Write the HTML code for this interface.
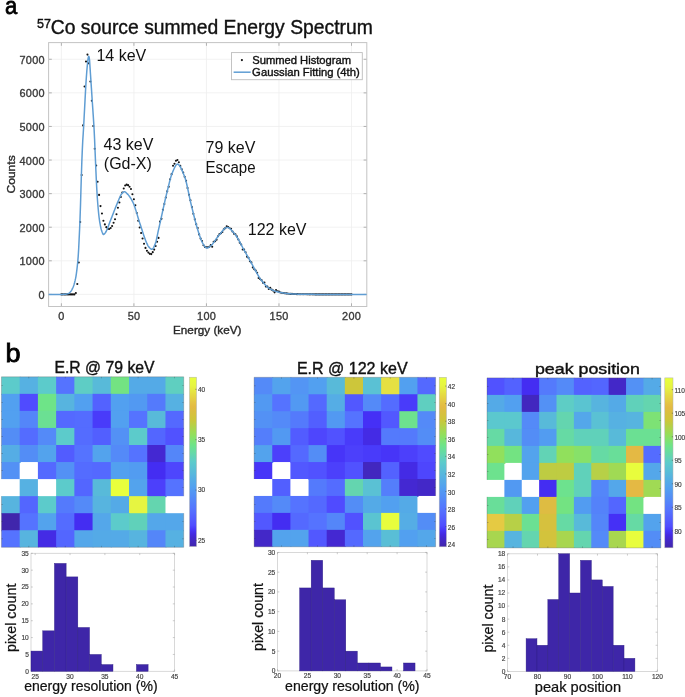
<!DOCTYPE html>
<html><head><meta charset="utf-8"><style>
html,body{margin:0;padding:0;background:#fff;}
svg{display:block;}
</style></head><body>
<svg width="685" height="697" viewBox="0 0 685 697" style="will-change:transform;filter:blur(0.3px)">
<rect width="685" height="697" fill="#fff"/>
<line x1="61.4" y1="42.6" x2="61.4" y2="306.5" stroke="#efefef" stroke-width="0.8"/>
<line x1="133.92" y1="42.6" x2="133.92" y2="306.5" stroke="#efefef" stroke-width="0.8"/>
<line x1="206.45" y1="42.6" x2="206.45" y2="306.5" stroke="#efefef" stroke-width="0.8"/>
<line x1="278.97" y1="42.6" x2="278.97" y2="306.5" stroke="#efefef" stroke-width="0.8"/>
<line x1="351.5" y1="42.6" x2="351.5" y2="306.5" stroke="#efefef" stroke-width="0.8"/>
<line x1="48.6" y1="294.4" x2="366.8" y2="294.4" stroke="#efefef" stroke-width="0.8"/>
<line x1="48.6" y1="260.81" x2="366.8" y2="260.81" stroke="#efefef" stroke-width="0.8"/>
<line x1="48.6" y1="227.22" x2="366.8" y2="227.22" stroke="#efefef" stroke-width="0.8"/>
<line x1="48.6" y1="193.63" x2="366.8" y2="193.63" stroke="#efefef" stroke-width="0.8"/>
<line x1="48.6" y1="160.04" x2="366.8" y2="160.04" stroke="#efefef" stroke-width="0.8"/>
<line x1="48.6" y1="126.45" x2="366.8" y2="126.45" stroke="#efefef" stroke-width="0.8"/>
<line x1="48.6" y1="92.86" x2="366.8" y2="92.86" stroke="#efefef" stroke-width="0.8"/>
<line x1="48.6" y1="59.27" x2="366.8" y2="59.27" stroke="#efefef" stroke-width="0.8"/>
<line x1="61.4" y1="306.5" x2="61.4" y2="303.3" stroke="#a8a8a8" stroke-width="0.9"/>
<line x1="61.4" y1="42.6" x2="61.4" y2="45.800000000000004" stroke="#a8a8a8" stroke-width="0.9"/>
<line x1="133.92" y1="306.5" x2="133.92" y2="303.3" stroke="#a8a8a8" stroke-width="0.9"/>
<line x1="133.92" y1="42.6" x2="133.92" y2="45.800000000000004" stroke="#a8a8a8" stroke-width="0.9"/>
<line x1="206.45" y1="306.5" x2="206.45" y2="303.3" stroke="#a8a8a8" stroke-width="0.9"/>
<line x1="206.45" y1="42.6" x2="206.45" y2="45.800000000000004" stroke="#a8a8a8" stroke-width="0.9"/>
<line x1="278.97" y1="306.5" x2="278.97" y2="303.3" stroke="#a8a8a8" stroke-width="0.9"/>
<line x1="278.97" y1="42.6" x2="278.97" y2="45.800000000000004" stroke="#a8a8a8" stroke-width="0.9"/>
<line x1="351.5" y1="306.5" x2="351.5" y2="303.3" stroke="#a8a8a8" stroke-width="0.9"/>
<line x1="351.5" y1="42.6" x2="351.5" y2="45.800000000000004" stroke="#a8a8a8" stroke-width="0.9"/>
<line x1="48.6" y1="294.4" x2="51.800000000000004" y2="294.4" stroke="#a8a8a8" stroke-width="0.9"/>
<line x1="366.8" y1="294.4" x2="363.6" y2="294.4" stroke="#a8a8a8" stroke-width="0.9"/>
<line x1="48.6" y1="260.81" x2="51.800000000000004" y2="260.81" stroke="#a8a8a8" stroke-width="0.9"/>
<line x1="366.8" y1="260.81" x2="363.6" y2="260.81" stroke="#a8a8a8" stroke-width="0.9"/>
<line x1="48.6" y1="227.22" x2="51.800000000000004" y2="227.22" stroke="#a8a8a8" stroke-width="0.9"/>
<line x1="366.8" y1="227.22" x2="363.6" y2="227.22" stroke="#a8a8a8" stroke-width="0.9"/>
<line x1="48.6" y1="193.63" x2="51.800000000000004" y2="193.63" stroke="#a8a8a8" stroke-width="0.9"/>
<line x1="366.8" y1="193.63" x2="363.6" y2="193.63" stroke="#a8a8a8" stroke-width="0.9"/>
<line x1="48.6" y1="160.04" x2="51.800000000000004" y2="160.04" stroke="#a8a8a8" stroke-width="0.9"/>
<line x1="366.8" y1="160.04" x2="363.6" y2="160.04" stroke="#a8a8a8" stroke-width="0.9"/>
<line x1="48.6" y1="126.45" x2="51.800000000000004" y2="126.45" stroke="#a8a8a8" stroke-width="0.9"/>
<line x1="366.8" y1="126.45" x2="363.6" y2="126.45" stroke="#a8a8a8" stroke-width="0.9"/>
<line x1="48.6" y1="92.86" x2="51.800000000000004" y2="92.86" stroke="#a8a8a8" stroke-width="0.9"/>
<line x1="366.8" y1="92.86" x2="363.6" y2="92.86" stroke="#a8a8a8" stroke-width="0.9"/>
<line x1="48.6" y1="59.27" x2="51.800000000000004" y2="59.27" stroke="#a8a8a8" stroke-width="0.9"/>
<line x1="366.8" y1="59.27" x2="363.6" y2="59.27" stroke="#a8a8a8" stroke-width="0.9"/>
<rect x="48.6" y="42.6" width="318.2" height="263.9" fill="none" stroke="#c4c4c4" stroke-width="1"/>
<text x="61.57" y="320" font-family="&quot;Liberation Sans&quot;, sans-serif" font-size="10.9" fill="#3a3a3a" stroke="#3a3a3a" stroke-width="0.35" text-anchor="middle" letter-spacing="0.35">0</text>
<text x="134.1" y="320" font-family="&quot;Liberation Sans&quot;, sans-serif" font-size="10.9" fill="#3a3a3a" stroke="#3a3a3a" stroke-width="0.35" text-anchor="middle" letter-spacing="0.35">50</text>
<text x="206.62" y="320" font-family="&quot;Liberation Sans&quot;, sans-serif" font-size="10.9" fill="#3a3a3a" stroke="#3a3a3a" stroke-width="0.35" text-anchor="middle" letter-spacing="0.35">100</text>
<text x="279.15" y="320" font-family="&quot;Liberation Sans&quot;, sans-serif" font-size="10.9" fill="#3a3a3a" stroke="#3a3a3a" stroke-width="0.35" text-anchor="middle" letter-spacing="0.35">150</text>
<text x="351.67" y="320" font-family="&quot;Liberation Sans&quot;, sans-serif" font-size="10.9" fill="#3a3a3a" stroke="#3a3a3a" stroke-width="0.35" text-anchor="middle" letter-spacing="0.35">200</text>
<text x="44.9" y="299" font-family="&quot;Liberation Sans&quot;, sans-serif" font-size="10.9" fill="#3a3a3a" stroke="#3a3a3a" stroke-width="0.35" text-anchor="end" letter-spacing="0.3">0</text>
<text x="44.9" y="265.41" font-family="&quot;Liberation Sans&quot;, sans-serif" font-size="10.9" fill="#3a3a3a" stroke="#3a3a3a" stroke-width="0.35" text-anchor="end" letter-spacing="0.3">1000</text>
<text x="44.9" y="231.82" font-family="&quot;Liberation Sans&quot;, sans-serif" font-size="10.9" fill="#3a3a3a" stroke="#3a3a3a" stroke-width="0.35" text-anchor="end" letter-spacing="0.3">2000</text>
<text x="44.9" y="198.23" font-family="&quot;Liberation Sans&quot;, sans-serif" font-size="10.9" fill="#3a3a3a" stroke="#3a3a3a" stroke-width="0.35" text-anchor="end" letter-spacing="0.3">3000</text>
<text x="44.9" y="164.64" font-family="&quot;Liberation Sans&quot;, sans-serif" font-size="10.9" fill="#3a3a3a" stroke="#3a3a3a" stroke-width="0.35" text-anchor="end" letter-spacing="0.3">4000</text>
<text x="44.9" y="131.05" font-family="&quot;Liberation Sans&quot;, sans-serif" font-size="10.9" fill="#3a3a3a" stroke="#3a3a3a" stroke-width="0.35" text-anchor="end" letter-spacing="0.3">5000</text>
<text x="44.9" y="97.46" font-family="&quot;Liberation Sans&quot;, sans-serif" font-size="10.9" fill="#3a3a3a" stroke="#3a3a3a" stroke-width="0.35" text-anchor="end" letter-spacing="0.3">6000</text>
<text x="44.9" y="63.87" font-family="&quot;Liberation Sans&quot;, sans-serif" font-size="10.9" fill="#3a3a3a" stroke="#3a3a3a" stroke-width="0.35" text-anchor="end" letter-spacing="0.3">7000</text>
<text x="173.06" y="333.6" font-family="&quot;Liberation Sans&quot;, sans-serif" font-size="11.6" fill="#2a2a2a" stroke="#2a2a2a" stroke-width="0.38" textLength="68.35" lengthAdjust="spacingAndGlyphs">Energy (keV)</text>
<text transform="translate(14.9,193.5) rotate(-90)" x="0" y="0" font-family="&quot;Liberation Sans&quot;, sans-serif" font-size="11.8" fill="#2a2a2a" stroke="#2a2a2a" stroke-width="0.38" textLength="38.21" lengthAdjust="spacingAndGlyphs">Counts</text>
<circle cx="61.36" cy="294.4" r="1.05" fill="#111"/>
<circle cx="62.81" cy="294.4" r="1.05" fill="#111"/>
<circle cx="64.26" cy="294.4" r="1.05" fill="#111"/>
<circle cx="65.71" cy="294.4" r="1.05" fill="#111"/>
<circle cx="67.16" cy="294.4" r="1.05" fill="#111"/>
<circle cx="68.61" cy="294.4" r="1.05" fill="#111"/>
<circle cx="70.06" cy="294.4" r="1.05" fill="#111"/>
<circle cx="71.51" cy="294.4" r="1.05" fill="#111"/>
<circle cx="72.96" cy="294.4" r="1.05" fill="#111"/>
<circle cx="74.41" cy="294.4" r="1.05" fill="#111"/>
<circle cx="75.86" cy="292.93" r="1.05" fill="#111"/>
<circle cx="77.31" cy="283.99" r="1.05" fill="#111"/>
<circle cx="78.76" cy="262.54" r="1.05" fill="#111"/>
<circle cx="80.21" cy="221.94" r="1.05" fill="#111"/>
<circle cx="81.66" cy="175.12" r="1.05" fill="#111"/>
<circle cx="83.11" cy="125.39" r="1.05" fill="#111"/>
<circle cx="84.56" cy="86.56" r="1.05" fill="#111"/>
<circle cx="86.01" cy="61.46" r="1.05" fill="#111"/>
<circle cx="87.47" cy="54.59" r="1.05" fill="#111"/>
<circle cx="88.92" cy="63.33" r="1.05" fill="#111"/>
<circle cx="90.37" cy="81.46" r="1.05" fill="#111"/>
<circle cx="91.82" cy="100.81" r="1.05" fill="#111"/>
<circle cx="93.27" cy="126.02" r="1.05" fill="#111"/>
<circle cx="94.72" cy="148.75" r="1.05" fill="#111"/>
<circle cx="96.17" cy="165.52" r="1.05" fill="#111"/>
<circle cx="97.62" cy="181.73" r="1.05" fill="#111"/>
<circle cx="99.07" cy="194.9" r="1.05" fill="#111"/>
<circle cx="100.52" cy="206.11" r="1.05" fill="#111"/>
<circle cx="101.97" cy="213.54" r="1.05" fill="#111"/>
<circle cx="103.42" cy="220.76" r="1.05" fill="#111"/>
<circle cx="104.87" cy="224.39" r="1.05" fill="#111"/>
<circle cx="106.32" cy="227.17" r="1.05" fill="#111"/>
<circle cx="107.77" cy="228.88" r="1.05" fill="#111"/>
<circle cx="109.22" cy="229.03" r="1.05" fill="#111"/>
<circle cx="110.67" cy="227.95" r="1.05" fill="#111"/>
<circle cx="112.12" cy="225.97" r="1.05" fill="#111"/>
<circle cx="113.57" cy="222.7" r="1.05" fill="#111"/>
<circle cx="115.02" cy="219.21" r="1.05" fill="#111"/>
<circle cx="116.48" cy="214.2" r="1.05" fill="#111"/>
<circle cx="117.93" cy="207.8" r="1.05" fill="#111"/>
<circle cx="119.38" cy="202.46" r="1.05" fill="#111"/>
<circle cx="120.83" cy="197.06" r="1.05" fill="#111"/>
<circle cx="122.28" cy="192.52" r="1.05" fill="#111"/>
<circle cx="123.73" cy="188.52" r="1.05" fill="#111"/>
<circle cx="125.18" cy="185.44" r="1.05" fill="#111"/>
<circle cx="126.63" cy="184.64" r="1.05" fill="#111"/>
<circle cx="128.08" cy="185.13" r="1.05" fill="#111"/>
<circle cx="129.53" cy="186.68" r="1.05" fill="#111"/>
<circle cx="130.98" cy="189.07" r="1.05" fill="#111"/>
<circle cx="132.43" cy="194.18" r="1.05" fill="#111"/>
<circle cx="133.88" cy="199.25" r="1.05" fill="#111"/>
<circle cx="135.33" cy="205.2" r="1.05" fill="#111"/>
<circle cx="136.78" cy="213.01" r="1.05" fill="#111"/>
<circle cx="138.23" cy="220.69" r="1.05" fill="#111"/>
<circle cx="139.68" cy="227.53" r="1.05" fill="#111"/>
<circle cx="141.13" cy="232.94" r="1.05" fill="#111"/>
<circle cx="142.58" cy="238.46" r="1.05" fill="#111"/>
<circle cx="144.03" cy="243.76" r="1.05" fill="#111"/>
<circle cx="145.49" cy="247.88" r="1.05" fill="#111"/>
<circle cx="146.94" cy="250.78" r="1.05" fill="#111"/>
<circle cx="148.39" cy="252.59" r="1.05" fill="#111"/>
<circle cx="149.84" cy="253.86" r="1.05" fill="#111"/>
<circle cx="151.29" cy="254.08" r="1.05" fill="#111"/>
<circle cx="152.74" cy="252.15" r="1.05" fill="#111"/>
<circle cx="154.19" cy="249.58" r="1.05" fill="#111"/>
<circle cx="155.64" cy="245.97" r="1.05" fill="#111"/>
<circle cx="157.09" cy="241.7" r="1.05" fill="#111"/>
<circle cx="158.54" cy="237.89" r="1.05" fill="#111"/>
<circle cx="159.99" cy="221.61" r="1.05" fill="#111"/>
<circle cx="161.44" cy="218.87" r="1.05" fill="#111"/>
<circle cx="162.89" cy="209.72" r="1.05" fill="#111"/>
<circle cx="164.34" cy="203.97" r="1.05" fill="#111"/>
<circle cx="165.79" cy="197.53" r="1.05" fill="#111"/>
<circle cx="167.24" cy="191.36" r="1.05" fill="#111"/>
<circle cx="168.69" cy="186.86" r="1.05" fill="#111"/>
<circle cx="170.14" cy="179.29" r="1.05" fill="#111"/>
<circle cx="171.59" cy="174.17" r="1.05" fill="#111"/>
<circle cx="173.04" cy="165.79" r="1.05" fill="#111"/>
<circle cx="174.5" cy="163.69" r="1.05" fill="#111"/>
<circle cx="175.95" cy="160.81" r="1.05" fill="#111"/>
<circle cx="177.4" cy="159.97" r="1.05" fill="#111"/>
<circle cx="178.85" cy="162.2" r="1.05" fill="#111"/>
<circle cx="180.3" cy="165.9" r="1.05" fill="#111"/>
<circle cx="181.75" cy="169.24" r="1.05" fill="#111"/>
<circle cx="183.2" cy="172.45" r="1.05" fill="#111"/>
<circle cx="184.65" cy="176.86" r="1.05" fill="#111"/>
<circle cx="186.1" cy="180.77" r="1.05" fill="#111"/>
<circle cx="187.55" cy="188.01" r="1.05" fill="#111"/>
<circle cx="189" cy="194.71" r="1.05" fill="#111"/>
<circle cx="190.45" cy="200.21" r="1.05" fill="#111"/>
<circle cx="191.9" cy="207.08" r="1.05" fill="#111"/>
<circle cx="193.35" cy="213.83" r="1.05" fill="#111"/>
<circle cx="194.8" cy="219.34" r="1.05" fill="#111"/>
<circle cx="196.25" cy="224.23" r="1.05" fill="#111"/>
<circle cx="197.7" cy="228.05" r="1.05" fill="#111"/>
<circle cx="199.15" cy="234.38" r="1.05" fill="#111"/>
<circle cx="200.6" cy="238.58" r="1.05" fill="#111"/>
<circle cx="202.05" cy="241.07" r="1.05" fill="#111"/>
<circle cx="203.51" cy="245.22" r="1.05" fill="#111"/>
<circle cx="204.96" cy="246.95" r="1.05" fill="#111"/>
<circle cx="206.41" cy="247.22" r="1.05" fill="#111"/>
<circle cx="207.86" cy="247.26" r="1.05" fill="#111"/>
<circle cx="209.31" cy="246.78" r="1.05" fill="#111"/>
<circle cx="210.76" cy="245.16" r="1.05" fill="#111"/>
<circle cx="212.21" cy="246.73" r="1.05" fill="#111"/>
<circle cx="213.66" cy="241.69" r="1.05" fill="#111"/>
<circle cx="215.11" cy="241.29" r="1.05" fill="#111"/>
<circle cx="216.56" cy="239.78" r="1.05" fill="#111"/>
<circle cx="218.01" cy="236.19" r="1.05" fill="#111"/>
<circle cx="219.46" cy="234.14" r="1.05" fill="#111"/>
<circle cx="220.91" cy="233.28" r="1.05" fill="#111"/>
<circle cx="222.36" cy="231.95" r="1.05" fill="#111"/>
<circle cx="223.81" cy="229.35" r="1.05" fill="#111"/>
<circle cx="225.26" cy="228.14" r="1.05" fill="#111"/>
<circle cx="226.71" cy="226.26" r="1.05" fill="#111"/>
<circle cx="228.16" cy="226.93" r="1.05" fill="#111"/>
<circle cx="229.61" cy="228.21" r="1.05" fill="#111"/>
<circle cx="231.06" cy="228.76" r="1.05" fill="#111"/>
<circle cx="232.52" cy="231.48" r="1.05" fill="#111"/>
<circle cx="233.97" cy="233.82" r="1.05" fill="#111"/>
<circle cx="235.42" cy="234.28" r="1.05" fill="#111"/>
<circle cx="236.87" cy="236.39" r="1.05" fill="#111"/>
<circle cx="238.32" cy="239.5" r="1.05" fill="#111"/>
<circle cx="239.77" cy="242.64" r="1.05" fill="#111"/>
<circle cx="241.22" cy="244.55" r="1.05" fill="#111"/>
<circle cx="242.67" cy="249.57" r="1.05" fill="#111"/>
<circle cx="244.12" cy="249.5" r="1.05" fill="#111"/>
<circle cx="245.57" cy="252.24" r="1.05" fill="#111"/>
<circle cx="247.02" cy="256.63" r="1.05" fill="#111"/>
<circle cx="248.47" cy="257.81" r="1.05" fill="#111"/>
<circle cx="249.92" cy="261.27" r="1.05" fill="#111"/>
<circle cx="251.37" cy="262.39" r="1.05" fill="#111"/>
<circle cx="252.82" cy="267.38" r="1.05" fill="#111"/>
<circle cx="254.27" cy="269.16" r="1.05" fill="#111"/>
<circle cx="255.72" cy="270.51" r="1.05" fill="#111"/>
<circle cx="257.17" cy="272.78" r="1.05" fill="#111"/>
<circle cx="258.62" cy="278.05" r="1.05" fill="#111"/>
<circle cx="260.07" cy="278.91" r="1.05" fill="#111"/>
<circle cx="261.53" cy="280.16" r="1.05" fill="#111"/>
<circle cx="262.98" cy="282.73" r="1.05" fill="#111"/>
<circle cx="264.43" cy="282.59" r="1.05" fill="#111"/>
<circle cx="265.88" cy="286.5" r="1.05" fill="#111"/>
<circle cx="267.33" cy="286.59" r="1.05" fill="#111"/>
<circle cx="268.78" cy="288.92" r="1.05" fill="#111"/>
<circle cx="270.23" cy="287.74" r="1.05" fill="#111"/>
<circle cx="271.68" cy="289.67" r="1.05" fill="#111"/>
<circle cx="273.13" cy="290.62" r="1.05" fill="#111"/>
<circle cx="274.58" cy="292.34" r="1.05" fill="#111"/>
<circle cx="276.03" cy="290" r="1.05" fill="#111"/>
<circle cx="277.48" cy="291.22" r="1.05" fill="#111"/>
<circle cx="278.93" cy="291.58" r="1.05" fill="#111"/>
<circle cx="280.38" cy="292.5" r="1.05" fill="#111"/>
<circle cx="281.83" cy="292.75" r="1.05" fill="#111"/>
<circle cx="283.28" cy="292.98" r="1.05" fill="#111"/>
<circle cx="284.73" cy="293.19" r="1.05" fill="#111"/>
<circle cx="286.18" cy="293.39" r="1.05" fill="#111"/>
<circle cx="287.63" cy="293.56" r="1.05" fill="#111"/>
<circle cx="289.08" cy="293.7" r="1.05" fill="#111"/>
<circle cx="290.54" cy="293.83" r="1.05" fill="#111"/>
<circle cx="291.99" cy="293.92" r="1.05" fill="#111"/>
<circle cx="293.44" cy="294" r="1.05" fill="#111"/>
<circle cx="294.89" cy="294.05" r="1.05" fill="#111"/>
<circle cx="296.34" cy="294.1" r="1.05" fill="#111"/>
<circle cx="297.79" cy="294.14" r="1.05" fill="#111"/>
<circle cx="299.24" cy="294.18" r="1.05" fill="#111"/>
<circle cx="300.69" cy="294.22" r="1.05" fill="#111"/>
<circle cx="302.14" cy="294.25" r="1.05" fill="#111"/>
<circle cx="303.59" cy="294.28" r="1.05" fill="#111"/>
<circle cx="305.04" cy="294.3" r="1.05" fill="#111"/>
<circle cx="306.49" cy="294.32" r="1.05" fill="#111"/>
<circle cx="307.94" cy="294.33" r="1.05" fill="#111"/>
<circle cx="309.39" cy="294.34" r="1.05" fill="#111"/>
<circle cx="310.84" cy="294.35" r="1.05" fill="#111"/>
<circle cx="312.29" cy="294.36" r="1.05" fill="#111"/>
<circle cx="313.74" cy="294.37" r="1.05" fill="#111"/>
<circle cx="315.19" cy="294.38" r="1.05" fill="#111"/>
<circle cx="316.64" cy="294.39" r="1.05" fill="#111"/>
<circle cx="318.09" cy="294.39" r="1.05" fill="#111"/>
<circle cx="319.55" cy="294.4" r="1.05" fill="#111"/>
<circle cx="321" cy="294.4" r="1.05" fill="#111"/>
<circle cx="322.45" cy="294.4" r="1.05" fill="#111"/>
<circle cx="323.9" cy="294.4" r="1.05" fill="#111"/>
<circle cx="325.35" cy="294.4" r="1.05" fill="#111"/>
<circle cx="326.8" cy="294.4" r="1.05" fill="#111"/>
<circle cx="328.25" cy="294.4" r="1.05" fill="#111"/>
<circle cx="329.7" cy="294.4" r="1.05" fill="#111"/>
<circle cx="331.15" cy="294.4" r="1.05" fill="#111"/>
<circle cx="332.6" cy="294.4" r="1.05" fill="#111"/>
<circle cx="334.05" cy="294.4" r="1.05" fill="#111"/>
<circle cx="335.5" cy="294.4" r="1.05" fill="#111"/>
<circle cx="336.95" cy="294.4" r="1.05" fill="#111"/>
<circle cx="338.4" cy="294.4" r="1.05" fill="#111"/>
<circle cx="339.85" cy="294.4" r="1.05" fill="#111"/>
<circle cx="341.3" cy="294.4" r="1.05" fill="#111"/>
<circle cx="342.75" cy="294.4" r="1.05" fill="#111"/>
<circle cx="344.2" cy="294.4" r="1.05" fill="#111"/>
<circle cx="345.65" cy="294.4" r="1.05" fill="#111"/>
<circle cx="347.1" cy="294.4" r="1.05" fill="#111"/>
<circle cx="348.56" cy="294.4" r="1.05" fill="#111"/>
<circle cx="350.01" cy="294.4" r="1.05" fill="#111"/>
<circle cx="351.46" cy="294.4" r="1.05" fill="#111"/>
<path d="M48.64,294.4 L49.09,294.4 L49.55,294.4 L50,294.4 L50.46,294.4 L50.91,294.4 L51.36,294.4 L51.82,294.4 L52.27,294.4 L52.73,294.4 L53.18,294.4 L53.64,294.4 L54.09,294.4 L54.55,294.4 L55,294.4 L55.46,294.4 L55.91,294.4 L56.37,294.4 L56.82,294.4 L57.28,294.4 L57.73,294.4 L58.19,294.4 L58.64,294.4 L59.1,294.4 L59.55,294.4 L60.01,294.4 L60.46,294.4 L60.92,294.4 L61.37,294.4 L61.83,294.4 L62.28,294.39 L62.74,294.38 L63.19,294.37 L63.65,294.36 L64.1,294.34 L64.56,294.32 L65.01,294.28 L65.47,294.23 L65.92,294.17 L66.38,294.09 L66.83,293.99 L67.29,293.89 L67.74,293.77 L68.19,293.59 L68.65,293.35 L69.1,293.04 L69.56,292.69 L70.01,292.3 L70.47,291.84 L70.92,291.28 L71.38,290.61 L71.83,289.83 L72.29,288.97 L72.74,288.02 L73.2,286.99 L73.65,285.8 L74.11,284.39 L74.56,282.76 L75.02,280.93 L75.47,278.89 L75.93,276.53 L76.38,273.55 L76.84,270.08 L77.29,266.24 L77.75,261.81 L78.2,256.41 L78.66,249.02 L79.11,239.66 L79.57,229.88 L80.02,218.99 L80.48,205.82 L80.93,190.32 L81.39,174.92 L81.84,161.47 L82.3,150.12 L82.75,140.73 L83.21,133.77 L83.66,126.19 L84.11,117.53 L84.57,108.95 L85.02,100.4 L85.48,91.62 L85.93,83.67 L86.39,76.81 L86.84,70.71 L87.3,65.54 L87.75,60.99 L88.21,57.95 L88.66,56.14 L89.12,57.07 L89.57,60.39 L90.03,67.55 L90.48,74.24 L90.94,81.05 L91.39,87.92 L91.85,94.89 L92.3,101.8 L92.76,108.49 L93.21,115.17 L93.67,122.15 L94.12,129.72 L94.58,139.3 L95.03,150.23 L95.49,161.04 L95.94,171.52 L96.4,181.47 L96.85,190.1 L97.31,197.73 L97.76,203.74 L98.22,209.05 L98.67,213.75 L99.13,217.76 L99.58,221.01 L100.04,223.72 L100.49,226.12 L100.94,228.19 L101.4,229.91 L101.85,231.29 L102.31,232.59 L102.76,233.71 L103.22,234.4 L103.67,234.48 L104.13,234.2 L104.58,233.72 L105.04,233.11 L105.49,232.46 L105.95,231.79 L106.4,230.97 L106.86,230.01 L107.31,228.94 L107.77,227.79 L108.22,226.57 L108.68,225.32 L109.13,224.05 L109.59,222.8 L110.04,221.58 L110.5,220.43 L110.95,219.29 L111.41,218.14 L111.86,216.98 L112.32,215.81 L112.77,214.64 L113.23,213.46 L113.68,212.28 L114.14,211.1 L114.59,209.93 L115.05,208.76 L115.5,207.61 L115.96,206.47 L116.41,205.35 L116.87,204.24 L117.32,203.16 L117.77,202.11 L118.23,201.04 L118.68,199.94 L119.14,198.82 L119.59,197.72 L120.05,196.68 L120.5,195.72 L120.96,194.88 L121.41,194.19 L121.87,193.64 L122.32,193.11 L122.78,192.62 L123.23,192.19 L123.69,191.87 L124.14,191.7 L124.6,191.71 L125.05,191.87 L125.51,192.16 L125.96,192.53 L126.42,192.97 L126.87,193.44 L127.33,193.9 L127.78,194.35 L128.24,194.85 L128.69,195.4 L129.15,195.98 L129.6,196.61 L130.06,197.27 L130.51,197.98 L130.97,198.72 L131.42,199.5 L131.88,200.31 L132.33,201.16 L132.79,202.03 L133.24,202.99 L133.7,204.06 L134.15,205.23 L134.6,206.48 L135.06,207.8 L135.51,209.19 L135.97,210.64 L136.42,212.12 L136.88,213.63 L137.33,215.15 L137.79,216.68 L138.24,218.21 L138.7,219.71 L139.15,221.19 L139.61,222.62 L140.06,224.01 L140.52,225.35 L140.97,226.73 L141.43,228.13 L141.88,229.55 L142.34,230.97 L142.79,232.38 L143.25,233.78 L143.7,235.16 L144.16,236.5 L144.61,237.81 L145.07,239.07 L145.52,240.26 L145.98,241.39 L146.43,242.45 L146.89,243.42 L147.34,244.38 L147.8,245.29 L148.25,246.12 L148.71,246.83 L149.16,247.38 L149.62,247.84 L150.07,248.28 L150.53,248.67 L150.98,248.99 L151.43,249.21 L151.89,249.29 L152.34,249.15 L152.8,248.74 L153.25,248.12 L153.71,247.32 L154.16,246.41 L154.62,245.43 L155.07,244.42 L155.53,243.11 L155.98,241.46 L156.44,239.56 L156.89,237.47 L157.35,235.29 L157.8,233.08 L158.26,230.95 L158.71,228.95 L159.17,226.97 L159.62,224.96 L160.08,222.93 L160.53,220.88 L160.99,218.81 L161.44,216.72 L161.9,214.64 L162.35,212.55 L162.81,210.46 L163.26,208.38 L163.72,206.31 L164.17,204.26 L164.63,202.23 L165.08,200.23 L165.54,198.26 L165.99,196.32 L166.45,194.43 L166.9,192.58 L167.35,190.77 L167.81,188.93 L168.26,187.07 L168.72,185.21 L169.17,183.36 L169.63,181.56 L170.08,179.82 L170.54,178.16 L170.99,176.59 L171.45,175.15 L171.9,173.85 L172.36,172.71 L172.81,171.65 L173.27,170.57 L173.72,169.5 L174.18,168.47 L174.63,167.49 L175.09,166.58 L175.54,165.79 L176,165.12 L176.45,164.6 L176.91,164.25 L177.36,164.11 L177.82,164.16 L178.27,164.36 L178.73,164.71 L179.18,165.18 L179.64,165.77 L180.09,166.47 L180.55,167.26 L181,168.13 L181.46,169.07 L181.91,170.08 L182.37,171.13 L182.82,172.21 L183.28,173.32 L183.73,174.44 L184.18,175.56 L184.64,176.71 L185.09,178.03 L185.55,179.55 L186,181.22 L186.46,183.04 L186.91,184.98 L187.37,187.02 L187.82,189.12 L188.28,191.27 L188.73,193.45 L189.19,195.64 L189.64,197.8 L190.1,199.91 L190.55,201.97 L191.01,203.93 L191.46,205.78 L191.92,207.6 L192.37,209.44 L192.83,211.28 L193.28,213.12 L193.74,214.95 L194.19,216.77 L194.65,218.57 L195.1,220.35 L195.56,222.09 L196.01,223.79 L196.47,225.45 L196.92,227.06 L197.38,228.6 L197.83,230.09 L198.29,231.5 L198.74,232.9 L199.2,234.28 L199.65,235.65 L200.11,236.98 L200.56,238.26 L201.01,239.47 L201.47,240.6 L201.92,241.63 L202.38,242.56 L202.83,243.36 L203.29,244.11 L203.74,244.87 L204.2,245.6 L204.65,246.29 L205.11,246.9 L205.56,247.4 L206.02,247.77 L206.47,247.98 L206.93,248 L207.38,247.92 L207.84,247.76 L208.29,247.53 L208.75,247.25 L209.2,246.93 L209.66,246.59 L210.11,246.23 L210.57,245.87 L211.02,245.52 L211.48,245.12 L211.93,244.66 L212.39,244.16 L212.84,243.61 L213.3,243.03 L213.75,242.42 L214.21,241.79 L214.66,241.14 L215.12,240.48 L215.57,239.81 L216.03,239.15 L216.48,238.49 L216.94,237.85 L217.39,237.23 L217.84,236.63 L218.3,236.07 L218.75,235.54 L219.21,235.03 L219.66,234.49 L220.12,233.92 L220.57,233.34 L221.03,232.75 L221.48,232.17 L221.94,231.58 L222.39,231.01 L222.85,230.46 L223.3,229.93 L223.76,229.43 L224.21,228.97 L224.67,228.56 L225.12,228.2 L225.58,227.9 L226.03,227.66 L226.49,227.49 L226.94,227.4 L227.4,227.4 L227.85,227.47 L228.31,227.61 L228.76,227.83 L229.22,228.1 L229.67,228.42 L230.13,228.79 L230.58,229.21 L231.04,229.66 L231.49,230.14 L231.95,230.65 L232.4,231.17 L232.86,231.71 L233.31,232.25 L233.77,232.8 L234.22,233.34 L234.67,233.87 L235.13,234.41 L235.58,234.99 L236.04,235.63 L236.49,236.3 L236.95,237 L237.4,237.75 L237.86,238.52 L238.31,239.31 L238.77,240.13 L239.22,240.96 L239.68,241.81 L240.13,242.67 L240.59,243.54 L241.04,244.41 L241.5,245.28 L241.95,246.14 L242.41,246.99 L242.86,247.84 L243.32,248.66 L243.77,249.47 L244.23,250.27 L244.68,251.07 L245.14,251.88 L245.59,252.69 L246.05,253.5 L246.5,254.32 L246.96,255.14 L247.41,255.96 L247.87,256.78 L248.32,257.59 L248.78,258.41 L249.23,259.23 L249.69,260.04 L250.14,260.85 L250.6,261.66 L251.05,262.46 L251.5,263.26 L251.96,264.08 L252.41,264.91 L252.87,265.75 L253.32,266.6 L253.78,267.46 L254.23,268.31 L254.69,269.17 L255.14,270.03 L255.6,270.88 L256.05,271.72 L256.51,272.55 L256.96,273.38 L257.42,274.18 L257.87,274.98 L258.33,275.75 L258.78,276.5 L259.24,277.22 L259.69,277.92 L260.15,278.6 L260.6,279.24 L261.06,279.84 L261.51,280.42 L261.97,280.98 L262.42,281.55 L262.88,282.1 L263.33,282.65 L263.79,283.19 L264.24,283.71 L264.7,284.23 L265.15,284.73 L265.61,285.21 L266.06,285.68 L266.52,286.13 L266.97,286.56 L267.42,286.97 L267.88,287.35 L268.33,287.71 L268.79,288.05 L269.24,288.36 L269.7,288.63 L270.15,288.88 L270.61,289.12 L271.06,289.35 L271.52,289.57 L271.97,289.79 L272.43,290 L272.88,290.2 L273.34,290.4 L273.79,290.58 L274.25,290.77 L274.7,290.94 L275.16,291.11 L275.61,291.27 L276.07,291.42 L276.52,291.57 L276.98,291.7 L277.43,291.83 L277.89,291.96 L278.34,292.07 L278.8,292.18 L279.25,292.28 L279.71,292.38 L280.16,292.46 L280.62,292.54 L281.07,292.62 L281.53,292.7 L281.98,292.78 L282.44,292.85 L282.89,292.92 L283.35,292.99 L283.8,293.06 L284.25,293.13 L284.71,293.19 L285.16,293.25 L285.62,293.31 L286.07,293.37 L286.53,293.43 L286.98,293.48 L287.44,293.53 L287.89,293.58 L288.35,293.63 L288.8,293.68 L289.26,293.72 L289.71,293.76 L290.17,293.8 L290.62,293.83 L291.08,293.87 L291.53,293.9 L291.99,293.92 L292.44,293.95 L292.9,293.97 L293.35,293.99 L293.81,294.01 L294.26,294.03 L294.72,294.04 L295.17,294.06 L295.63,294.08 L296.08,294.09 L296.54,294.11 L296.99,294.12 L297.45,294.13 L297.9,294.15 L298.36,294.16 L298.81,294.17 L299.27,294.19 L299.72,294.2 L300.18,294.21 L300.63,294.22 L301.08,294.23 L301.54,294.24 L301.99,294.25 L302.45,294.26 L302.9,294.27 L303.36,294.27 L303.81,294.28 L304.27,294.29 L304.72,294.3 L305.18,294.3 L305.63,294.31 L306.09,294.31 L306.54,294.32 L307,294.32 L307.45,294.33 L307.91,294.33 L308.36,294.34 L308.82,294.34 L309.27,294.34 L309.73,294.35 L310.18,294.35 L310.64,294.35 L311.09,294.36 L311.55,294.36 L312,294.36 L312.46,294.36 L312.91,294.37 L313.37,294.37 L313.82,294.37 L314.28,294.38 L314.73,294.38 L315.19,294.38 L315.64,294.38 L316.1,294.38 L316.55,294.39 L317.01,294.39 L317.46,294.39 L317.91,294.39 L318.37,294.39 L318.82,294.39 L319.28,294.4 L319.73,294.4 L320.19,294.4 L320.64,294.4 L321.1,294.4 L321.55,294.4 L322.01,294.4 L322.46,294.4 L322.92,294.4 L323.37,294.4 L323.83,294.4 L324.28,294.4 L324.74,294.4 L325.19,294.4 L325.65,294.4 L326.1,294.4 L326.56,294.4 L327.01,294.4 L327.47,294.4 L327.92,294.4 L328.38,294.4 L328.83,294.4 L329.29,294.4 L329.74,294.4 L330.2,294.4 L330.65,294.4 L331.11,294.4 L331.56,294.4 L332.02,294.4 L332.47,294.4 L332.93,294.4 L333.38,294.4 L333.84,294.4 L334.29,294.4 L334.74,294.4 L335.2,294.4 L335.65,294.4 L336.11,294.4 L336.56,294.4 L337.02,294.4 L337.47,294.4 L337.93,294.4 L338.38,294.4 L338.84,294.4 L339.29,294.4 L339.75,294.4 L340.2,294.4 L340.66,294.4 L341.11,294.4 L341.57,294.4 L342.02,294.4 L342.48,294.4 L342.93,294.4 L343.39,294.4 L343.84,294.4 L344.3,294.4 L344.75,294.4 L345.21,294.4 L345.66,294.4 L346.12,294.4 L346.57,294.4 L347.03,294.4 L347.48,294.4 L347.94,294.4 L348.39,294.4 L348.85,294.4 L349.3,294.4 L349.76,294.4 L350.21,294.4 L350.66,294.4 L351.12,294.4 L351.57,294.4 L352.03,294.4 L352.48,294.4 L352.94,294.4 L353.39,294.4 L353.85,294.4 L354.3,294.4 L354.76,294.4 L355.21,294.4 L355.67,294.4 L356.12,294.4 L356.58,294.4 L357.03,294.4 L357.49,294.4 L357.94,294.4 L358.4,294.4 L358.85,294.4 L359.31,294.4 L359.76,294.4 L360.22,294.4 L360.67,294.4 L361.13,294.4 L361.58,294.4 L362.04,294.4 L362.49,294.4 L362.95,294.4 L363.4,294.4 L363.86,294.4 L364.31,294.4 L364.77,294.4 L365.22,294.4 L365.68,294.4 L366.13,294.4 L366.59,294.4" fill="none" stroke="#5f9dd3" stroke-width="1.5" stroke-linejoin="round"/>
<rect x="231.5" y="52.6" width="130.8" height="27.1" fill="#fff" stroke="#bdbdbd" stroke-width="0.9"/>
<circle cx="241.9" cy="60.1" r="1.1" fill="#111"/>
<line x1="233.6" y1="72.2" x2="250.7" y2="72.2" stroke="#5f9dd3" stroke-width="1.5"/>
<text x="252.2" y="64" font-family="&quot;Liberation Sans&quot;, sans-serif" font-size="11.1" fill="#111" stroke="#111" stroke-width="0.38" textLength="98.89" lengthAdjust="spacingAndGlyphs">Summed Histogram</text>
<text x="252.14" y="75.9" font-family="&quot;Liberation Sans&quot;, sans-serif" font-size="11.1" fill="#111" stroke="#111" stroke-width="0.38" textLength="107.59" lengthAdjust="spacingAndGlyphs">Gaussian Fitting (4th)</text>
<text x="96.4" y="61.1" font-family="&quot;Liberation Sans&quot;, sans-serif" font-size="16" fill="#111">14 keV</text>
<text x="103.6" y="150.4" font-family="&quot;Liberation Sans&quot;, sans-serif" font-size="16" fill="#111">43 keV</text>
<text x="103.8" y="169.4" font-family="&quot;Liberation Sans&quot;, sans-serif" font-size="16" fill="#111">(Gd-X)</text>
<text x="205.6" y="152.6" font-family="&quot;Liberation Sans&quot;, sans-serif" font-size="16" fill="#111">79 keV</text>
<text x="205.4" y="172.7" font-family="&quot;Liberation Sans&quot;, sans-serif" font-size="16" fill="#111" textLength="50.2" lengthAdjust="spacingAndGlyphs">Escape</text>
<text x="247.8" y="235.3" font-family="&quot;Liberation Sans&quot;, sans-serif" font-size="16" fill="#111">122 keV</text>
<text x="37.1" y="28.4" font-family="&quot;Liberation Sans&quot;, sans-serif" font-size="12.75" fill="#111" stroke="#111" stroke-width="0.38" textLength="13.96" lengthAdjust="spacingAndGlyphs">57</text>
<text x="50.73" y="34.2" font-family="&quot;Liberation Sans&quot;, sans-serif" font-size="19.8" fill="#111" stroke="#111" stroke-width="0.38" textLength="322.1" lengthAdjust="spacingAndGlyphs">Co source summed Energy Spectrum</text>
<text x="5.12" y="13.8" font-family="&quot;Liberation Sans&quot;, sans-serif" font-size="23.89" fill="#000" stroke="#000" stroke-width="0.8" textLength="12.2" lengthAdjust="spacingAndGlyphs">a</text>
<text x="5.44" y="362" font-family="&quot;Liberation Sans&quot;, sans-serif" font-size="25.1" fill="#000" stroke="#000" stroke-width="0.8" textLength="15.08" lengthAdjust="spacingAndGlyphs">b</text>
<rect x="1.45" y="376.8" width="19.23" height="18.05" fill="#5ccbcb"/>
<rect x="19.68" y="376.8" width="19.23" height="18.05" fill="#56b1e2"/>
<rect x="37.9" y="376.8" width="19.23" height="18.05" fill="#5ccbcb"/>
<rect x="56.13" y="376.8" width="19.23" height="18.05" fill="#5573ff"/>
<rect x="74.35" y="376.8" width="19.23" height="18.05" fill="#5ecdc5"/>
<rect x="92.58" y="376.8" width="19.23" height="18.05" fill="#58bad9"/>
<rect x="110.8" y="376.8" width="19.23" height="18.05" fill="#73e382"/>
<rect x="129.03" y="376.8" width="19.23" height="18.05" fill="#54aae7"/>
<rect x="147.25" y="376.8" width="19.23" height="18.05" fill="#54aae7"/>
<rect x="165.47" y="376.8" width="18.23" height="18.05" fill="#5fcfc0"/>
<rect x="1.45" y="393.85" width="19.23" height="18.05" fill="#52a0f0"/>
<rect x="19.68" y="393.85" width="19.23" height="18.05" fill="#504bff"/>
<rect x="37.9" y="393.85" width="19.23" height="18.05" fill="#6ee488"/>
<rect x="56.13" y="393.85" width="19.23" height="18.05" fill="#57b4df"/>
<rect x="74.35" y="393.85" width="19.23" height="18.05" fill="#52a0f0"/>
<rect x="92.58" y="393.85" width="19.23" height="18.05" fill="#5362ff"/>
<rect x="110.8" y="393.85" width="19.23" height="18.05" fill="#52a0f0"/>
<rect x="129.03" y="393.85" width="19.23" height="18.05" fill="#5299f2"/>
<rect x="147.25" y="393.85" width="19.23" height="18.05" fill="#547afc"/>
<rect x="165.47" y="393.85" width="18.23" height="18.05" fill="#56b1e2"/>
<rect x="1.45" y="410.9" width="19.23" height="18.05" fill="#52a0f0"/>
<rect x="19.68" y="410.9" width="19.23" height="18.05" fill="#5486f9"/>
<rect x="37.9" y="410.9" width="19.23" height="18.05" fill="#6be093"/>
<rect x="56.13" y="410.9" width="19.23" height="18.05" fill="#5469ff"/>
<rect x="74.35" y="410.9" width="19.23" height="18.05" fill="#546cff"/>
<rect x="92.58" y="410.9" width="19.23" height="18.05" fill="#493bfa"/>
<rect x="110.8" y="410.9" width="19.23" height="18.05" fill="#52a0f0"/>
<rect x="129.03" y="410.9" width="19.23" height="18.05" fill="#5573ff"/>
<rect x="147.25" y="410.9" width="19.23" height="18.05" fill="#58bad9"/>
<rect x="165.47" y="410.9" width="18.23" height="18.05" fill="#5469ff"/>
<rect x="1.45" y="427.95" width="19.23" height="18.05" fill="#538df6"/>
<rect x="19.68" y="427.95" width="19.23" height="18.05" fill="#546cff"/>
<rect x="37.9" y="427.95" width="19.23" height="18.05" fill="#548af8"/>
<rect x="56.13" y="427.95" width="19.23" height="18.05" fill="#5ccbcb"/>
<rect x="74.35" y="427.95" width="19.23" height="18.05" fill="#546cff"/>
<rect x="92.58" y="427.95" width="19.23" height="18.05" fill="#525fff"/>
<rect x="110.8" y="427.95" width="19.23" height="18.05" fill="#5391f5"/>
<rect x="129.03" y="427.95" width="19.23" height="18.05" fill="#5ccbcb"/>
<rect x="147.25" y="427.95" width="19.23" height="18.05" fill="#5366ff"/>
<rect x="165.47" y="427.95" width="18.23" height="18.05" fill="#5152ff"/>
<rect x="1.45" y="445" width="19.23" height="18.05" fill="#55ade5"/>
<rect x="19.68" y="445" width="19.23" height="17.05" fill="#538df6"/>
<rect x="37.9" y="445" width="19.23" height="18.05" fill="#53a3ed"/>
<rect x="56.13" y="445" width="19.23" height="18.05" fill="#525cff"/>
<rect x="74.35" y="445" width="19.23" height="18.05" fill="#5573ff"/>
<rect x="92.58" y="445" width="19.23" height="18.05" fill="#53a3ed"/>
<rect x="110.8" y="445" width="19.23" height="18.05" fill="#548af8"/>
<rect x="129.03" y="445" width="19.23" height="18.05" fill="#5573ff"/>
<rect x="147.25" y="445" width="19.23" height="18.05" fill="#4428d2"/>
<rect x="165.47" y="445" width="18.23" height="18.05" fill="#5486f9"/>
<rect x="1.45" y="462.05" width="18.23" height="17.05" fill="#5391f5"/>
<rect x="37.9" y="462.05" width="19.23" height="17.05" fill="#5469ff"/>
<rect x="56.13" y="462.05" width="19.23" height="18.05" fill="#5391f5"/>
<rect x="74.35" y="462.05" width="19.23" height="18.05" fill="#546cff"/>
<rect x="92.58" y="462.05" width="19.23" height="18.05" fill="#5469ff"/>
<rect x="110.8" y="462.05" width="19.23" height="18.05" fill="#52a0f0"/>
<rect x="129.03" y="462.05" width="19.23" height="18.05" fill="#529cf1"/>
<rect x="147.25" y="462.05" width="19.23" height="18.05" fill="#442df2"/>
<rect x="165.47" y="462.05" width="18.23" height="18.05" fill="#4e46fd"/>
<rect x="19.68" y="479.1" width="18.23" height="18.05" fill="#56b1e2"/>
<rect x="56.13" y="479.1" width="19.23" height="18.05" fill="#5ccbcb"/>
<rect x="74.35" y="479.1" width="19.23" height="18.05" fill="#5366ff"/>
<rect x="92.58" y="479.1" width="19.23" height="18.05" fill="#58bad9"/>
<rect x="110.8" y="479.1" width="19.23" height="18.05" fill="#e8ff3c"/>
<rect x="129.03" y="479.1" width="19.23" height="18.05" fill="#53a3ed"/>
<rect x="147.25" y="479.1" width="19.23" height="18.05" fill="#4c40fb"/>
<rect x="165.47" y="479.1" width="18.23" height="17.05" fill="#5573ff"/>
<rect x="1.45" y="496.15" width="19.23" height="18.05" fill="#57b4df"/>
<rect x="19.68" y="496.15" width="19.23" height="18.05" fill="#5366ff"/>
<rect x="37.9" y="496.15" width="19.23" height="18.05" fill="#5ccbcb"/>
<rect x="56.13" y="496.15" width="19.23" height="18.05" fill="#547afc"/>
<rect x="74.35" y="496.15" width="19.23" height="18.05" fill="#548af8"/>
<rect x="92.58" y="496.15" width="19.23" height="18.05" fill="#57b4df"/>
<rect x="110.8" y="496.15" width="19.23" height="18.05" fill="#54aae7"/>
<rect x="129.03" y="496.15" width="19.23" height="18.05" fill="#e6f541"/>
<rect x="147.25" y="496.15" width="18.23" height="18.05" fill="#64d5af"/>
<rect x="1.45" y="513.2" width="19.23" height="18.05" fill="#4026ac"/>
<rect x="19.68" y="513.2" width="19.23" height="18.05" fill="#5573ff"/>
<rect x="37.9" y="513.2" width="19.23" height="18.05" fill="#53a3ed"/>
<rect x="56.13" y="513.2" width="19.23" height="18.05" fill="#546cff"/>
<rect x="74.35" y="513.2" width="19.23" height="18.05" fill="#442df2"/>
<rect x="92.58" y="513.2" width="19.23" height="18.05" fill="#54a7ea"/>
<rect x="110.8" y="513.2" width="19.23" height="18.05" fill="#5ccbcb"/>
<rect x="129.03" y="513.2" width="19.23" height="18.05" fill="#60d1ba"/>
<rect x="147.25" y="513.2" width="19.23" height="18.05" fill="#54a7ea"/>
<rect x="165.47" y="513.2" width="18.23" height="18.05" fill="#54a7ea"/>
<rect x="1.45" y="530.25" width="19.23" height="17.05" fill="#5573ff"/>
<rect x="19.68" y="530.25" width="19.23" height="17.05" fill="#57b4df"/>
<rect x="37.9" y="530.25" width="19.23" height="17.05" fill="#442be5"/>
<rect x="56.13" y="530.25" width="19.23" height="17.05" fill="#5366ff"/>
<rect x="74.35" y="530.25" width="19.23" height="17.05" fill="#54a7ea"/>
<rect x="92.58" y="530.25" width="19.23" height="17.05" fill="#54aae7"/>
<rect x="110.8" y="530.25" width="19.23" height="17.05" fill="#54aae7"/>
<rect x="129.03" y="530.25" width="19.23" height="17.05" fill="#57b4df"/>
<rect x="147.25" y="530.25" width="19.23" height="17.05" fill="#5486f9"/>
<rect x="165.47" y="530.25" width="18.23" height="17.05" fill="#56b1e2"/>
<path d="M1.45,376.8V393.85M1.45,393.85V410.9M1.45,410.9V427.95M1.45,427.95V445M1.45,445V462.05M1.45,462.05V479.1M1.45,496.15V513.2M1.45,513.2V530.25M1.45,530.25V547.3M1.45,376.8H19.68M1.45,547.3H19.68M19.68,376.8H37.9M19.68,547.3H37.9M37.9,376.8H56.13M37.9,547.3H56.13M56.13,376.8H74.35M56.13,547.3H74.35M74.35,376.8H92.58M74.35,547.3H92.58M92.58,376.8H110.8M92.58,547.3H110.8M110.8,376.8H129.03M110.8,547.3H129.03M129.03,376.8H147.25M129.03,547.3H147.25M147.25,376.8H165.47M147.25,547.3H165.47M165.47,376.8H183.7M165.47,547.3H183.7M183.7,376.8V393.85M183.7,393.85V410.9M183.7,410.9V427.95M183.7,427.95V445M183.7,445V462.05M183.7,462.05V479.1M183.7,479.1V496.15M183.7,513.2V530.25M183.7,530.25V547.3" fill="none" stroke="#555" stroke-width="0.5" opacity="0.6"/>
<line x1="1.45" y1="385.32" x2="2.95" y2="385.32" stroke="#333" stroke-width="0.5" opacity="0.6"/>
<line x1="183.7" y1="385.32" x2="182.2" y2="385.32" stroke="#333" stroke-width="0.5" opacity="0.6"/>
<line x1="1.45" y1="402.38" x2="2.95" y2="402.38" stroke="#333" stroke-width="0.5" opacity="0.6"/>
<line x1="183.7" y1="402.38" x2="182.2" y2="402.38" stroke="#333" stroke-width="0.5" opacity="0.6"/>
<line x1="1.45" y1="419.43" x2="2.95" y2="419.43" stroke="#333" stroke-width="0.5" opacity="0.6"/>
<line x1="183.7" y1="419.43" x2="182.2" y2="419.43" stroke="#333" stroke-width="0.5" opacity="0.6"/>
<line x1="1.45" y1="436.47" x2="2.95" y2="436.47" stroke="#333" stroke-width="0.5" opacity="0.6"/>
<line x1="183.7" y1="436.47" x2="182.2" y2="436.47" stroke="#333" stroke-width="0.5" opacity="0.6"/>
<line x1="1.45" y1="453.52" x2="2.95" y2="453.52" stroke="#333" stroke-width="0.5" opacity="0.6"/>
<line x1="183.7" y1="453.52" x2="182.2" y2="453.52" stroke="#333" stroke-width="0.5" opacity="0.6"/>
<line x1="1.45" y1="470.57" x2="2.95" y2="470.57" stroke="#333" stroke-width="0.5" opacity="0.6"/>
<line x1="183.7" y1="470.57" x2="182.2" y2="470.57" stroke="#333" stroke-width="0.5" opacity="0.6"/>
<line x1="183.7" y1="487.62" x2="182.2" y2="487.62" stroke="#333" stroke-width="0.5" opacity="0.6"/>
<line x1="1.45" y1="504.67" x2="2.95" y2="504.67" stroke="#333" stroke-width="0.5" opacity="0.6"/>
<line x1="1.45" y1="521.72" x2="2.95" y2="521.72" stroke="#333" stroke-width="0.5" opacity="0.6"/>
<line x1="183.7" y1="521.72" x2="182.2" y2="521.72" stroke="#333" stroke-width="0.5" opacity="0.6"/>
<line x1="1.45" y1="538.77" x2="2.95" y2="538.77" stroke="#333" stroke-width="0.5" opacity="0.6"/>
<line x1="183.7" y1="538.77" x2="182.2" y2="538.77" stroke="#333" stroke-width="0.5" opacity="0.6"/>
<line x1="28.79" y1="376.8" x2="28.79" y2="378.3" stroke="#333" stroke-width="0.5" opacity="0.6"/>
<line x1="28.79" y1="547.3" x2="28.79" y2="545.8" stroke="#333" stroke-width="0.5" opacity="0.6"/>
<line x1="65.24" y1="376.8" x2="65.24" y2="378.3" stroke="#333" stroke-width="0.5" opacity="0.6"/>
<line x1="65.24" y1="547.3" x2="65.24" y2="545.8" stroke="#333" stroke-width="0.5" opacity="0.6"/>
<line x1="101.69" y1="376.8" x2="101.69" y2="378.3" stroke="#333" stroke-width="0.5" opacity="0.6"/>
<line x1="101.69" y1="547.3" x2="101.69" y2="545.8" stroke="#333" stroke-width="0.5" opacity="0.6"/>
<line x1="138.14" y1="376.8" x2="138.14" y2="378.3" stroke="#333" stroke-width="0.5" opacity="0.6"/>
<line x1="138.14" y1="547.3" x2="138.14" y2="545.8" stroke="#333" stroke-width="0.5" opacity="0.6"/>
<line x1="174.59" y1="376.8" x2="174.59" y2="378.3" stroke="#333" stroke-width="0.5" opacity="0.6"/>
<line x1="174.59" y1="547.3" x2="174.59" y2="545.8" stroke="#333" stroke-width="0.5" opacity="0.6"/>
<defs><linearGradient id="g189" x1="0" y1="0" x2="0" y2="1"><stop offset="0.0000" stop-color="#e8ff3c"/><stop offset="0.0250" stop-color="#e7fa3e"/><stop offset="0.0500" stop-color="#e6f541"/><stop offset="0.0750" stop-color="#e6e942"/><stop offset="0.1000" stop-color="#e5dc42"/><stop offset="0.1250" stop-color="#e5d043"/><stop offset="0.1500" stop-color="#e4c344"/><stop offset="0.1750" stop-color="#e3ba43"/><stop offset="0.2000" stop-color="#dbbe40"/><stop offset="0.2250" stop-color="#d4c23d"/><stop offset="0.2500" stop-color="#cdc63a"/><stop offset="0.2750" stop-color="#bccd43"/><stop offset="0.3000" stop-color="#acd44d"/><stop offset="0.3250" stop-color="#9bdc56"/><stop offset="0.3500" stop-color="#8be163"/><stop offset="0.3750" stop-color="#7de276"/><stop offset="0.4000" stop-color="#6ee488"/><stop offset="0.4250" stop-color="#69de99"/><stop offset="0.4500" stop-color="#65d8a9"/><stop offset="0.4750" stop-color="#61d1ba"/><stop offset="0.5000" stop-color="#5ccbcb"/><stop offset="0.5250" stop-color="#5ac4d1"/><stop offset="0.5500" stop-color="#59bdd7"/><stop offset="0.5750" stop-color="#57b6de"/><stop offset="0.6000" stop-color="#55aee4"/><stop offset="0.6250" stop-color="#54a7ea"/><stop offset="0.6500" stop-color="#52a0f0"/><stop offset="0.6750" stop-color="#5397f3"/><stop offset="0.7000" stop-color="#538ff6"/><stop offset="0.7250" stop-color="#5486f9"/><stop offset="0.7500" stop-color="#547dfc"/><stop offset="0.7750" stop-color="#5575fe"/><stop offset="0.8000" stop-color="#546bff"/><stop offset="0.8250" stop-color="#5361ff"/><stop offset="0.8500" stop-color="#5257ff"/><stop offset="0.8750" stop-color="#504dff"/><stop offset="0.9000" stop-color="#4837f8"/><stop offset="0.9250" stop-color="#442ae3"/><stop offset="0.9500" stop-color="#4328cc"/><stop offset="0.9750" stop-color="#4227bc"/><stop offset="1.0000" stop-color="#4026ac"/></linearGradient></defs>
<rect x="189.5" y="377.2" width="7" height="169.3" fill="url(#g189)" stroke="#b0b0b0" stroke-width="0.5"/>
<line x1="195.3" y1="540.45" x2="196.5" y2="540.45" stroke="#444" stroke-width="0.5"/>
<text x="197.9" y="542.75" font-family="&quot;Liberation Sans&quot;, sans-serif" font-size="6.5" fill="#3a3a3a" stroke="#3a3a3a" stroke-width="0.15">25</text>
<line x1="195.3" y1="490.07" x2="196.5" y2="490.07" stroke="#444" stroke-width="0.5"/>
<text x="197.9" y="492.37" font-family="&quot;Liberation Sans&quot;, sans-serif" font-size="6.5" fill="#3a3a3a" stroke="#3a3a3a" stroke-width="0.15">30</text>
<line x1="195.3" y1="439.68" x2="196.5" y2="439.68" stroke="#444" stroke-width="0.5"/>
<text x="197.9" y="441.98" font-family="&quot;Liberation Sans&quot;, sans-serif" font-size="6.5" fill="#3a3a3a" stroke="#3a3a3a" stroke-width="0.15">35</text>
<line x1="195.3" y1="389.29" x2="196.5" y2="389.29" stroke="#444" stroke-width="0.5"/>
<text x="197.9" y="391.59" font-family="&quot;Liberation Sans&quot;, sans-serif" font-size="6.5" fill="#3a3a3a" stroke="#3a3a3a" stroke-width="0.15">40</text>
<rect x="254.1" y="377.3" width="19.15" height="17.95" fill="#548af8"/>
<rect x="272.25" y="377.3" width="19.15" height="17.95" fill="#53a3ed"/>
<rect x="290.4" y="377.3" width="19.15" height="17.95" fill="#5395f4"/>
<rect x="308.55" y="377.3" width="19.15" height="17.95" fill="#52a0f0"/>
<rect x="326.7" y="377.3" width="19.15" height="17.95" fill="#58bad9"/>
<rect x="344.85" y="377.3" width="19.15" height="17.95" fill="#cdc63a"/>
<rect x="363" y="377.3" width="19.15" height="17.95" fill="#5ac1d4"/>
<rect x="381.15" y="377.3" width="19.15" height="17.95" fill="#e5e042"/>
<rect x="399.3" y="377.3" width="19.15" height="17.95" fill="#52a0f0"/>
<rect x="417.45" y="377.3" width="18.15" height="17.95" fill="#5469ff"/>
<rect x="254.1" y="394.25" width="19.15" height="17.95" fill="#5299f2"/>
<rect x="272.25" y="394.25" width="19.15" height="17.95" fill="#5573ff"/>
<rect x="290.4" y="394.25" width="19.15" height="17.95" fill="#5299f2"/>
<rect x="308.55" y="394.25" width="19.15" height="17.95" fill="#5469ff"/>
<rect x="326.7" y="394.25" width="19.15" height="17.95" fill="#55ade5"/>
<rect x="344.85" y="394.25" width="19.15" height="17.95" fill="#5258ff"/>
<rect x="363" y="394.25" width="19.15" height="17.95" fill="#548af8"/>
<rect x="381.15" y="394.25" width="19.15" height="17.95" fill="#546cff"/>
<rect x="399.3" y="394.25" width="19.15" height="17.95" fill="#493bfa"/>
<rect x="417.45" y="394.25" width="18.15" height="17.95" fill="#5fcfc0"/>
<rect x="254.1" y="411.2" width="19.15" height="17.95" fill="#5391f5"/>
<rect x="272.25" y="411.2" width="19.15" height="17.95" fill="#548af8"/>
<rect x="290.4" y="411.2" width="19.15" height="17.95" fill="#547afc"/>
<rect x="308.55" y="411.2" width="19.15" height="17.95" fill="#525fff"/>
<rect x="326.7" y="411.2" width="19.15" height="17.95" fill="#5299f2"/>
<rect x="344.85" y="411.2" width="19.15" height="17.95" fill="#5573ff"/>
<rect x="363" y="411.2" width="19.15" height="17.95" fill="#4530f6"/>
<rect x="381.15" y="411.2" width="19.15" height="17.95" fill="#5258ff"/>
<rect x="399.3" y="411.2" width="19.15" height="17.95" fill="#6de28e"/>
<rect x="417.45" y="411.2" width="18.15" height="17.95" fill="#548af8"/>
<rect x="254.1" y="428.15" width="19.15" height="17.95" fill="#547efb"/>
<rect x="272.25" y="428.15" width="19.15" height="17.95" fill="#5299f2"/>
<rect x="290.4" y="428.15" width="19.15" height="17.95" fill="#525cff"/>
<rect x="308.55" y="428.15" width="19.15" height="17.95" fill="#4e46fd"/>
<rect x="326.7" y="428.15" width="19.15" height="17.95" fill="#5152ff"/>
<rect x="344.85" y="428.15" width="19.15" height="17.95" fill="#493bfa"/>
<rect x="363" y="428.15" width="19.15" height="17.95" fill="#442be5"/>
<rect x="381.15" y="428.15" width="19.15" height="17.95" fill="#547afc"/>
<rect x="399.3" y="428.15" width="19.15" height="17.95" fill="#547afc"/>
<rect x="417.45" y="428.15" width="18.15" height="17.95" fill="#538df6"/>
<rect x="254.1" y="445.1" width="19.15" height="17.95" fill="#53a3ed"/>
<rect x="272.25" y="445.1" width="19.15" height="16.95" fill="#4c40fb"/>
<rect x="290.4" y="445.1" width="19.15" height="17.95" fill="#5469ff"/>
<rect x="308.55" y="445.1" width="19.15" height="17.95" fill="#538df6"/>
<rect x="326.7" y="445.1" width="19.15" height="17.95" fill="#4735f8"/>
<rect x="344.85" y="445.1" width="19.15" height="17.95" fill="#4c40fb"/>
<rect x="363" y="445.1" width="19.15" height="17.95" fill="#493bfa"/>
<rect x="381.15" y="445.1" width="19.15" height="17.95" fill="#4735f8"/>
<rect x="399.3" y="445.1" width="19.15" height="17.95" fill="#4c40fb"/>
<rect x="417.45" y="445.1" width="18.15" height="17.95" fill="#504bff"/>
<rect x="254.1" y="462.05" width="18.15" height="16.95" fill="#4735f8"/>
<rect x="290.4" y="462.05" width="19.15" height="16.95" fill="#5258ff"/>
<rect x="308.55" y="462.05" width="19.15" height="17.95" fill="#5152ff"/>
<rect x="326.7" y="462.05" width="19.15" height="17.95" fill="#4c40fb"/>
<rect x="344.85" y="462.05" width="19.15" height="17.95" fill="#5152ff"/>
<rect x="363" y="462.05" width="19.15" height="17.95" fill="#4227bf"/>
<rect x="381.15" y="462.05" width="19.15" height="17.95" fill="#5362ff"/>
<rect x="399.3" y="462.05" width="19.15" height="17.95" fill="#442be5"/>
<rect x="417.45" y="462.05" width="18.15" height="17.95" fill="#4e46fd"/>
<rect x="272.25" y="479" width="18.15" height="17.95" fill="#525fff"/>
<rect x="308.55" y="479" width="19.15" height="17.95" fill="#547afc"/>
<rect x="326.7" y="479" width="19.15" height="17.95" fill="#546cff"/>
<rect x="344.85" y="479" width="19.15" height="17.95" fill="#64d5af"/>
<rect x="363" y="479" width="19.15" height="17.95" fill="#5ac1d4"/>
<rect x="381.15" y="479" width="19.15" height="17.95" fill="#547efb"/>
<rect x="399.3" y="479" width="19.15" height="17.95" fill="#4428d2"/>
<rect x="417.45" y="479" width="18.15" height="16.95" fill="#4328c8"/>
<rect x="254.1" y="495.95" width="19.15" height="17.95" fill="#547afc"/>
<rect x="272.25" y="495.95" width="19.15" height="17.95" fill="#548af8"/>
<rect x="290.4" y="495.95" width="19.15" height="17.95" fill="#5573ff"/>
<rect x="308.55" y="495.95" width="19.15" height="17.95" fill="#5469ff"/>
<rect x="326.7" y="495.95" width="19.15" height="17.95" fill="#504bff"/>
<rect x="344.85" y="495.95" width="19.15" height="17.95" fill="#538df6"/>
<rect x="363" y="495.95" width="19.15" height="17.95" fill="#54aae7"/>
<rect x="381.15" y="495.95" width="19.15" height="17.95" fill="#52a0f0"/>
<rect x="399.3" y="495.95" width="18.15" height="17.95" fill="#54aae7"/>
<rect x="254.1" y="512.9" width="19.15" height="17.95" fill="#5258ff"/>
<rect x="272.25" y="512.9" width="19.15" height="17.95" fill="#442df2"/>
<rect x="290.4" y="512.9" width="19.15" height="17.95" fill="#5469ff"/>
<rect x="308.55" y="512.9" width="19.15" height="17.95" fill="#5573ff"/>
<rect x="326.7" y="512.9" width="19.15" height="17.95" fill="#5486f9"/>
<rect x="344.85" y="512.9" width="19.15" height="17.95" fill="#5152ff"/>
<rect x="363" y="512.9" width="19.15" height="17.95" fill="#5ac4d1"/>
<rect x="381.15" y="512.9" width="19.15" height="17.95" fill="#e8fd3d"/>
<rect x="399.3" y="512.9" width="19.15" height="17.95" fill="#55ade5"/>
<rect x="417.45" y="512.9" width="18.15" height="17.95" fill="#538df6"/>
<rect x="254.1" y="529.85" width="19.15" height="16.95" fill="#4328c8"/>
<rect x="272.25" y="529.85" width="19.15" height="16.95" fill="#53a3ed"/>
<rect x="290.4" y="529.85" width="19.15" height="16.95" fill="#53a3ed"/>
<rect x="308.55" y="529.85" width="19.15" height="16.95" fill="#5258ff"/>
<rect x="326.7" y="529.85" width="19.15" height="16.95" fill="#4428d2"/>
<rect x="344.85" y="529.85" width="19.15" height="16.95" fill="#5469ff"/>
<rect x="363" y="529.85" width="19.15" height="16.95" fill="#53a3ed"/>
<rect x="381.15" y="529.85" width="19.15" height="16.95" fill="#59bed6"/>
<rect x="399.3" y="529.85" width="19.15" height="16.95" fill="#52a0f0"/>
<rect x="417.45" y="529.85" width="18.15" height="16.95" fill="#54a7ea"/>
<path d="M254.1,377.3V394.25M254.1,394.25V411.2M254.1,411.2V428.15M254.1,428.15V445.1M254.1,445.1V462.05M254.1,462.05V479M254.1,495.95V512.9M254.1,512.9V529.85M254.1,529.85V546.8M254.1,377.3H272.25M254.1,546.8H272.25M272.25,377.3H290.4M272.25,546.8H290.4M290.4,377.3H308.55M290.4,546.8H308.55M308.55,377.3H326.7M308.55,546.8H326.7M326.7,377.3H344.85M326.7,546.8H344.85M344.85,377.3H363M344.85,546.8H363M363,377.3H381.15M363,546.8H381.15M381.15,377.3H399.3M381.15,546.8H399.3M399.3,377.3H417.45M399.3,546.8H417.45M417.45,377.3H435.6M417.45,546.8H435.6M435.6,377.3V394.25M435.6,394.25V411.2M435.6,411.2V428.15M435.6,428.15V445.1M435.6,445.1V462.05M435.6,462.05V479M435.6,479V495.95M435.6,512.9V529.85M435.6,529.85V546.8" fill="none" stroke="#555" stroke-width="0.5" opacity="0.6"/>
<line x1="254.1" y1="385.78" x2="255.6" y2="385.78" stroke="#333" stroke-width="0.5" opacity="0.6"/>
<line x1="435.6" y1="385.78" x2="434.1" y2="385.78" stroke="#333" stroke-width="0.5" opacity="0.6"/>
<line x1="254.1" y1="402.73" x2="255.6" y2="402.73" stroke="#333" stroke-width="0.5" opacity="0.6"/>
<line x1="435.6" y1="402.73" x2="434.1" y2="402.73" stroke="#333" stroke-width="0.5" opacity="0.6"/>
<line x1="254.1" y1="419.68" x2="255.6" y2="419.68" stroke="#333" stroke-width="0.5" opacity="0.6"/>
<line x1="435.6" y1="419.68" x2="434.1" y2="419.68" stroke="#333" stroke-width="0.5" opacity="0.6"/>
<line x1="254.1" y1="436.62" x2="255.6" y2="436.62" stroke="#333" stroke-width="0.5" opacity="0.6"/>
<line x1="435.6" y1="436.62" x2="434.1" y2="436.62" stroke="#333" stroke-width="0.5" opacity="0.6"/>
<line x1="254.1" y1="453.57" x2="255.6" y2="453.57" stroke="#333" stroke-width="0.5" opacity="0.6"/>
<line x1="435.6" y1="453.57" x2="434.1" y2="453.57" stroke="#333" stroke-width="0.5" opacity="0.6"/>
<line x1="254.1" y1="470.52" x2="255.6" y2="470.52" stroke="#333" stroke-width="0.5" opacity="0.6"/>
<line x1="435.6" y1="470.52" x2="434.1" y2="470.52" stroke="#333" stroke-width="0.5" opacity="0.6"/>
<line x1="435.6" y1="487.47" x2="434.1" y2="487.47" stroke="#333" stroke-width="0.5" opacity="0.6"/>
<line x1="254.1" y1="504.42" x2="255.6" y2="504.42" stroke="#333" stroke-width="0.5" opacity="0.6"/>
<line x1="254.1" y1="521.38" x2="255.6" y2="521.38" stroke="#333" stroke-width="0.5" opacity="0.6"/>
<line x1="435.6" y1="521.38" x2="434.1" y2="521.38" stroke="#333" stroke-width="0.5" opacity="0.6"/>
<line x1="254.1" y1="538.32" x2="255.6" y2="538.32" stroke="#333" stroke-width="0.5" opacity="0.6"/>
<line x1="435.6" y1="538.32" x2="434.1" y2="538.32" stroke="#333" stroke-width="0.5" opacity="0.6"/>
<line x1="281.32" y1="377.3" x2="281.32" y2="378.8" stroke="#333" stroke-width="0.5" opacity="0.6"/>
<line x1="281.32" y1="546.8" x2="281.32" y2="545.3" stroke="#333" stroke-width="0.5" opacity="0.6"/>
<line x1="317.62" y1="377.3" x2="317.62" y2="378.8" stroke="#333" stroke-width="0.5" opacity="0.6"/>
<line x1="317.62" y1="546.8" x2="317.62" y2="545.3" stroke="#333" stroke-width="0.5" opacity="0.6"/>
<line x1="353.93" y1="377.3" x2="353.93" y2="378.8" stroke="#333" stroke-width="0.5" opacity="0.6"/>
<line x1="353.93" y1="546.8" x2="353.93" y2="545.3" stroke="#333" stroke-width="0.5" opacity="0.6"/>
<line x1="390.23" y1="377.3" x2="390.23" y2="378.8" stroke="#333" stroke-width="0.5" opacity="0.6"/>
<line x1="390.23" y1="546.8" x2="390.23" y2="545.3" stroke="#333" stroke-width="0.5" opacity="0.6"/>
<line x1="426.52" y1="377.3" x2="426.52" y2="378.8" stroke="#333" stroke-width="0.5" opacity="0.6"/>
<line x1="426.52" y1="546.8" x2="426.52" y2="545.3" stroke="#333" stroke-width="0.5" opacity="0.6"/>
<defs><linearGradient id="g439" x1="0" y1="0" x2="0" y2="1"><stop offset="0.0000" stop-color="#e8ff3c"/><stop offset="0.0250" stop-color="#e7fa3e"/><stop offset="0.0500" stop-color="#e6f541"/><stop offset="0.0750" stop-color="#e6e942"/><stop offset="0.1000" stop-color="#e5dc42"/><stop offset="0.1250" stop-color="#e5d043"/><stop offset="0.1500" stop-color="#e4c344"/><stop offset="0.1750" stop-color="#e3ba43"/><stop offset="0.2000" stop-color="#dbbe40"/><stop offset="0.2250" stop-color="#d4c23d"/><stop offset="0.2500" stop-color="#cdc63a"/><stop offset="0.2750" stop-color="#bccd43"/><stop offset="0.3000" stop-color="#acd44d"/><stop offset="0.3250" stop-color="#9bdc56"/><stop offset="0.3500" stop-color="#8be163"/><stop offset="0.3750" stop-color="#7de276"/><stop offset="0.4000" stop-color="#6ee488"/><stop offset="0.4250" stop-color="#69de99"/><stop offset="0.4500" stop-color="#65d8a9"/><stop offset="0.4750" stop-color="#61d1ba"/><stop offset="0.5000" stop-color="#5ccbcb"/><stop offset="0.5250" stop-color="#5ac4d1"/><stop offset="0.5500" stop-color="#59bdd7"/><stop offset="0.5750" stop-color="#57b6de"/><stop offset="0.6000" stop-color="#55aee4"/><stop offset="0.6250" stop-color="#54a7ea"/><stop offset="0.6500" stop-color="#52a0f0"/><stop offset="0.6750" stop-color="#5397f3"/><stop offset="0.7000" stop-color="#538ff6"/><stop offset="0.7250" stop-color="#5486f9"/><stop offset="0.7500" stop-color="#547dfc"/><stop offset="0.7750" stop-color="#5575fe"/><stop offset="0.8000" stop-color="#546bff"/><stop offset="0.8250" stop-color="#5361ff"/><stop offset="0.8500" stop-color="#5257ff"/><stop offset="0.8750" stop-color="#504dff"/><stop offset="0.9000" stop-color="#4837f8"/><stop offset="0.9250" stop-color="#442ae3"/><stop offset="0.9500" stop-color="#4328cc"/><stop offset="0.9750" stop-color="#4227bc"/><stop offset="1.0000" stop-color="#4026ac"/></linearGradient></defs>
<rect x="439.2" y="377.3" width="7.2" height="169.5" fill="url(#g439)" stroke="#b0b0b0" stroke-width="0.5"/>
<line x1="445.2" y1="544.17" x2="446.4" y2="544.17" stroke="#444" stroke-width="0.5"/>
<text x="447.8" y="547.27" font-family="&quot;Liberation Sans&quot;, sans-serif" font-size="6.5" fill="#3a3a3a" stroke="#3a3a3a" stroke-width="0.15">24</text>
<line x1="445.2" y1="526.6" x2="446.4" y2="526.6" stroke="#444" stroke-width="0.5"/>
<text x="447.8" y="529.7" font-family="&quot;Liberation Sans&quot;, sans-serif" font-size="6.5" fill="#3a3a3a" stroke="#3a3a3a" stroke-width="0.15">26</text>
<line x1="445.2" y1="509.04" x2="446.4" y2="509.04" stroke="#444" stroke-width="0.5"/>
<text x="447.8" y="512.14" font-family="&quot;Liberation Sans&quot;, sans-serif" font-size="6.5" fill="#3a3a3a" stroke="#3a3a3a" stroke-width="0.15">28</text>
<line x1="445.2" y1="491.47" x2="446.4" y2="491.47" stroke="#444" stroke-width="0.5"/>
<text x="447.8" y="494.57" font-family="&quot;Liberation Sans&quot;, sans-serif" font-size="6.5" fill="#3a3a3a" stroke="#3a3a3a" stroke-width="0.15">30</text>
<line x1="445.2" y1="473.91" x2="446.4" y2="473.91" stroke="#444" stroke-width="0.5"/>
<text x="447.8" y="477.01" font-family="&quot;Liberation Sans&quot;, sans-serif" font-size="6.5" fill="#3a3a3a" stroke="#3a3a3a" stroke-width="0.15">32</text>
<line x1="445.2" y1="456.34" x2="446.4" y2="456.34" stroke="#444" stroke-width="0.5"/>
<text x="447.8" y="459.44" font-family="&quot;Liberation Sans&quot;, sans-serif" font-size="6.5" fill="#3a3a3a" stroke="#3a3a3a" stroke-width="0.15">34</text>
<line x1="445.2" y1="438.78" x2="446.4" y2="438.78" stroke="#444" stroke-width="0.5"/>
<text x="447.8" y="441.88" font-family="&quot;Liberation Sans&quot;, sans-serif" font-size="6.5" fill="#3a3a3a" stroke="#3a3a3a" stroke-width="0.15">36</text>
<line x1="445.2" y1="421.21" x2="446.4" y2="421.21" stroke="#444" stroke-width="0.5"/>
<text x="447.8" y="424.31" font-family="&quot;Liberation Sans&quot;, sans-serif" font-size="6.5" fill="#3a3a3a" stroke="#3a3a3a" stroke-width="0.15">38</text>
<line x1="445.2" y1="403.65" x2="446.4" y2="403.65" stroke="#444" stroke-width="0.5"/>
<text x="447.8" y="406.75" font-family="&quot;Liberation Sans&quot;, sans-serif" font-size="6.5" fill="#3a3a3a" stroke="#3a3a3a" stroke-width="0.15">40</text>
<line x1="445.2" y1="386.08" x2="446.4" y2="386.08" stroke="#444" stroke-width="0.5"/>
<text x="447.8" y="389.18" font-family="&quot;Liberation Sans&quot;, sans-serif" font-size="6.5" fill="#3a3a3a" stroke="#3a3a3a" stroke-width="0.15">42</text>
<rect x="487" y="377.9" width="18.38" height="18" fill="#5152ff"/>
<rect x="504.38" y="377.9" width="18.38" height="18" fill="#5362ff"/>
<rect x="521.76" y="377.9" width="18.38" height="18" fill="#442df2"/>
<rect x="539.14" y="377.9" width="18.38" height="18" fill="#547afc"/>
<rect x="556.52" y="377.9" width="18.38" height="18" fill="#548af8"/>
<rect x="573.9" y="377.9" width="18.38" height="18" fill="#5362ff"/>
<rect x="591.28" y="377.9" width="18.38" height="18" fill="#5366ff"/>
<rect x="608.66" y="377.9" width="18.38" height="18" fill="#4328c8"/>
<rect x="626.04" y="377.9" width="18.38" height="18" fill="#5391f5"/>
<rect x="643.42" y="377.9" width="17.38" height="18" fill="#54aae7"/>
<rect x="487" y="394.9" width="18.38" height="18" fill="#54aae7"/>
<rect x="504.38" y="394.9" width="18.38" height="18" fill="#52a0f0"/>
<rect x="521.76" y="394.9" width="18.38" height="18" fill="#4227bf"/>
<rect x="539.14" y="394.9" width="18.38" height="18" fill="#5391f5"/>
<rect x="556.52" y="394.9" width="18.38" height="18" fill="#5ecdc5"/>
<rect x="573.9" y="394.9" width="18.38" height="18" fill="#5ac4d1"/>
<rect x="591.28" y="394.9" width="18.38" height="18" fill="#57b4df"/>
<rect x="608.66" y="394.9" width="18.38" height="18" fill="#54aae7"/>
<rect x="626.04" y="394.9" width="18.38" height="18" fill="#60d1ba"/>
<rect x="643.42" y="394.9" width="17.38" height="18" fill="#64d5af"/>
<rect x="487" y="411.9" width="18.38" height="18" fill="#5bc8ce"/>
<rect x="504.38" y="411.9" width="18.38" height="18" fill="#5bc8ce"/>
<rect x="521.76" y="411.9" width="18.38" height="18" fill="#548af8"/>
<rect x="539.14" y="411.9" width="18.38" height="18" fill="#58bad9"/>
<rect x="556.52" y="411.9" width="18.38" height="18" fill="#64d5af"/>
<rect x="573.9" y="411.9" width="18.38" height="18" fill="#54a7ea"/>
<rect x="591.28" y="411.9" width="18.38" height="18" fill="#5ac1d4"/>
<rect x="608.66" y="411.9" width="18.38" height="18" fill="#56b1e2"/>
<rect x="626.04" y="411.9" width="18.38" height="18" fill="#57b4df"/>
<rect x="643.42" y="411.9" width="17.38" height="18" fill="#7de275"/>
<rect x="487" y="428.9" width="18.38" height="18" fill="#66daa4"/>
<rect x="504.38" y="428.9" width="18.38" height="18" fill="#57b7dc"/>
<rect x="521.76" y="428.9" width="18.38" height="18" fill="#538df6"/>
<rect x="539.14" y="428.9" width="18.38" height="18" fill="#529cf1"/>
<rect x="556.52" y="428.9" width="18.38" height="18" fill="#66daa4"/>
<rect x="573.9" y="428.9" width="18.38" height="18" fill="#60d1ba"/>
<rect x="591.28" y="428.9" width="18.38" height="18" fill="#60d1ba"/>
<rect x="608.66" y="428.9" width="18.38" height="18" fill="#58bad9"/>
<rect x="626.04" y="428.9" width="18.38" height="18" fill="#6be093"/>
<rect x="643.42" y="428.9" width="17.38" height="18" fill="#6be093"/>
<rect x="487" y="445.9" width="18.38" height="18" fill="#91e05c"/>
<rect x="504.38" y="445.9" width="18.38" height="17" fill="#73e382"/>
<rect x="521.76" y="445.9" width="18.38" height="18" fill="#53a3ed"/>
<rect x="539.14" y="445.9" width="18.38" height="18" fill="#62d3b5"/>
<rect x="556.52" y="445.9" width="18.38" height="18" fill="#91e05c"/>
<rect x="573.9" y="445.9" width="18.38" height="18" fill="#87e169"/>
<rect x="591.28" y="445.9" width="18.38" height="18" fill="#66daa4"/>
<rect x="608.66" y="445.9" width="18.38" height="18" fill="#69de99"/>
<rect x="626.04" y="445.9" width="18.38" height="18" fill="#e4b944"/>
<rect x="643.42" y="445.9" width="17.38" height="18" fill="#546cff"/>
<rect x="487" y="462.9" width="17.38" height="17" fill="#6de28e"/>
<rect x="521.76" y="462.9" width="18.38" height="17" fill="#53a3ed"/>
<rect x="539.14" y="462.9" width="18.38" height="18" fill="#becc42"/>
<rect x="556.52" y="462.9" width="18.38" height="18" fill="#becc42"/>
<rect x="573.9" y="462.9" width="18.38" height="18" fill="#60d1ba"/>
<rect x="591.28" y="462.9" width="18.38" height="18" fill="#b7d047"/>
<rect x="608.66" y="462.9" width="18.38" height="18" fill="#a0da54"/>
<rect x="626.04" y="462.9" width="18.38" height="18" fill="#e8fd3d"/>
<rect x="643.42" y="462.9" width="17.38" height="18" fill="#54a7ea"/>
<rect x="504.38" y="479.9" width="17.38" height="18" fill="#5299f2"/>
<rect x="539.14" y="479.9" width="18.38" height="18" fill="#442df2"/>
<rect x="556.52" y="479.9" width="18.38" height="18" fill="#6de28e"/>
<rect x="573.9" y="479.9" width="18.38" height="18" fill="#60d1ba"/>
<rect x="591.28" y="479.9" width="18.38" height="18" fill="#5486f9"/>
<rect x="608.66" y="479.9" width="18.38" height="18" fill="#54a7ea"/>
<rect x="626.04" y="479.9" width="18.38" height="18" fill="#e4b944"/>
<rect x="643.42" y="479.9" width="17.38" height="17" fill="#a0da54"/>
<rect x="487" y="496.9" width="18.38" height="18" fill="#69de99"/>
<rect x="504.38" y="496.9" width="18.38" height="18" fill="#60d1ba"/>
<rect x="521.76" y="496.9" width="18.38" height="18" fill="#52a0f0"/>
<rect x="539.14" y="496.9" width="18.38" height="18" fill="#debc42"/>
<rect x="556.52" y="496.9" width="18.38" height="18" fill="#73e382"/>
<rect x="573.9" y="496.9" width="18.38" height="18" fill="#529cf1"/>
<rect x="591.28" y="496.9" width="18.38" height="18" fill="#5482fa"/>
<rect x="608.66" y="496.9" width="18.38" height="18" fill="#5366ff"/>
<rect x="626.04" y="496.9" width="17.38" height="18" fill="#73e382"/>
<rect x="487" y="513.9" width="18.38" height="18" fill="#e5ca43"/>
<rect x="504.38" y="513.9" width="18.38" height="18" fill="#b7d047"/>
<rect x="521.76" y="513.9" width="18.38" height="18" fill="#6be093"/>
<rect x="539.14" y="513.9" width="18.38" height="18" fill="#d6c13e"/>
<rect x="556.52" y="513.9" width="18.38" height="18" fill="#66daa4"/>
<rect x="573.9" y="513.9" width="18.38" height="18" fill="#58bad9"/>
<rect x="591.28" y="513.9" width="18.38" height="18" fill="#5486f9"/>
<rect x="608.66" y="513.9" width="18.38" height="18" fill="#4530f6"/>
<rect x="626.04" y="513.9" width="18.38" height="18" fill="#66daa4"/>
<rect x="643.42" y="513.9" width="17.38" height="18" fill="#53a3ed"/>
<rect x="487" y="530.9" width="18.38" height="17" fill="#a8d64f"/>
<rect x="504.38" y="530.9" width="18.38" height="17" fill="#57b4df"/>
<rect x="521.76" y="530.9" width="18.38" height="17" fill="#64d5af"/>
<rect x="539.14" y="530.9" width="18.38" height="17" fill="#d3c33c"/>
<rect x="556.52" y="530.9" width="18.38" height="17" fill="#a8d64f"/>
<rect x="573.9" y="530.9" width="18.38" height="17" fill="#64d5af"/>
<rect x="591.28" y="530.9" width="18.38" height="17" fill="#548af8"/>
<rect x="608.66" y="530.9" width="18.38" height="17" fill="#a8d64f"/>
<rect x="626.04" y="530.9" width="18.38" height="17" fill="#e8fd3d"/>
<rect x="643.42" y="530.9" width="17.38" height="17" fill="#538df6"/>
<path d="M487,377.9V394.9M487,394.9V411.9M487,411.9V428.9M487,428.9V445.9M487,445.9V462.9M487,462.9V479.9M487,496.9V513.9M487,513.9V530.9M487,530.9V547.9M487,377.9H504.38M487,547.9H504.38M504.38,377.9H521.76M504.38,547.9H521.76M521.76,377.9H539.14M521.76,547.9H539.14M539.14,377.9H556.52M539.14,547.9H556.52M556.52,377.9H573.9M556.52,547.9H573.9M573.9,377.9H591.28M573.9,547.9H591.28M591.28,377.9H608.66M591.28,547.9H608.66M608.66,377.9H626.04M608.66,547.9H626.04M626.04,377.9H643.42M626.04,547.9H643.42M643.42,377.9H660.8M643.42,547.9H660.8M660.8,377.9V394.9M660.8,394.9V411.9M660.8,411.9V428.9M660.8,428.9V445.9M660.8,445.9V462.9M660.8,462.9V479.9M660.8,479.9V496.9M660.8,513.9V530.9M660.8,530.9V547.9" fill="none" stroke="#555" stroke-width="0.5" opacity="0.6"/>
<line x1="487" y1="386.4" x2="488.5" y2="386.4" stroke="#333" stroke-width="0.5" opacity="0.6"/>
<line x1="660.8" y1="386.4" x2="659.3" y2="386.4" stroke="#333" stroke-width="0.5" opacity="0.6"/>
<line x1="487" y1="403.4" x2="488.5" y2="403.4" stroke="#333" stroke-width="0.5" opacity="0.6"/>
<line x1="660.8" y1="403.4" x2="659.3" y2="403.4" stroke="#333" stroke-width="0.5" opacity="0.6"/>
<line x1="487" y1="420.4" x2="488.5" y2="420.4" stroke="#333" stroke-width="0.5" opacity="0.6"/>
<line x1="660.8" y1="420.4" x2="659.3" y2="420.4" stroke="#333" stroke-width="0.5" opacity="0.6"/>
<line x1="487" y1="437.4" x2="488.5" y2="437.4" stroke="#333" stroke-width="0.5" opacity="0.6"/>
<line x1="660.8" y1="437.4" x2="659.3" y2="437.4" stroke="#333" stroke-width="0.5" opacity="0.6"/>
<line x1="487" y1="454.4" x2="488.5" y2="454.4" stroke="#333" stroke-width="0.5" opacity="0.6"/>
<line x1="660.8" y1="454.4" x2="659.3" y2="454.4" stroke="#333" stroke-width="0.5" opacity="0.6"/>
<line x1="487" y1="471.4" x2="488.5" y2="471.4" stroke="#333" stroke-width="0.5" opacity="0.6"/>
<line x1="660.8" y1="471.4" x2="659.3" y2="471.4" stroke="#333" stroke-width="0.5" opacity="0.6"/>
<line x1="660.8" y1="488.4" x2="659.3" y2="488.4" stroke="#333" stroke-width="0.5" opacity="0.6"/>
<line x1="487" y1="505.4" x2="488.5" y2="505.4" stroke="#333" stroke-width="0.5" opacity="0.6"/>
<line x1="487" y1="522.4" x2="488.5" y2="522.4" stroke="#333" stroke-width="0.5" opacity="0.6"/>
<line x1="660.8" y1="522.4" x2="659.3" y2="522.4" stroke="#333" stroke-width="0.5" opacity="0.6"/>
<line x1="487" y1="539.4" x2="488.5" y2="539.4" stroke="#333" stroke-width="0.5" opacity="0.6"/>
<line x1="660.8" y1="539.4" x2="659.3" y2="539.4" stroke="#333" stroke-width="0.5" opacity="0.6"/>
<line x1="513.07" y1="377.9" x2="513.07" y2="379.4" stroke="#333" stroke-width="0.5" opacity="0.6"/>
<line x1="513.07" y1="547.9" x2="513.07" y2="546.4" stroke="#333" stroke-width="0.5" opacity="0.6"/>
<line x1="547.83" y1="377.9" x2="547.83" y2="379.4" stroke="#333" stroke-width="0.5" opacity="0.6"/>
<line x1="547.83" y1="547.9" x2="547.83" y2="546.4" stroke="#333" stroke-width="0.5" opacity="0.6"/>
<line x1="582.59" y1="377.9" x2="582.59" y2="379.4" stroke="#333" stroke-width="0.5" opacity="0.6"/>
<line x1="582.59" y1="547.9" x2="582.59" y2="546.4" stroke="#333" stroke-width="0.5" opacity="0.6"/>
<line x1="617.35" y1="377.9" x2="617.35" y2="379.4" stroke="#333" stroke-width="0.5" opacity="0.6"/>
<line x1="617.35" y1="547.9" x2="617.35" y2="546.4" stroke="#333" stroke-width="0.5" opacity="0.6"/>
<line x1="652.11" y1="377.9" x2="652.11" y2="379.4" stroke="#333" stroke-width="0.5" opacity="0.6"/>
<line x1="652.11" y1="547.9" x2="652.11" y2="546.4" stroke="#333" stroke-width="0.5" opacity="0.6"/>
<defs><linearGradient id="g664" x1="0" y1="0" x2="0" y2="1"><stop offset="0.0000" stop-color="#e8ff3c"/><stop offset="0.0250" stop-color="#e7fa3e"/><stop offset="0.0500" stop-color="#e6f541"/><stop offset="0.0750" stop-color="#e6e942"/><stop offset="0.1000" stop-color="#e5dc42"/><stop offset="0.1250" stop-color="#e5d043"/><stop offset="0.1500" stop-color="#e4c344"/><stop offset="0.1750" stop-color="#e3ba43"/><stop offset="0.2000" stop-color="#dbbe40"/><stop offset="0.2250" stop-color="#d4c23d"/><stop offset="0.2500" stop-color="#cdc63a"/><stop offset="0.2750" stop-color="#bccd43"/><stop offset="0.3000" stop-color="#acd44d"/><stop offset="0.3250" stop-color="#9bdc56"/><stop offset="0.3500" stop-color="#8be163"/><stop offset="0.3750" stop-color="#7de276"/><stop offset="0.4000" stop-color="#6ee488"/><stop offset="0.4250" stop-color="#69de99"/><stop offset="0.4500" stop-color="#65d8a9"/><stop offset="0.4750" stop-color="#61d1ba"/><stop offset="0.5000" stop-color="#5ccbcb"/><stop offset="0.5250" stop-color="#5ac4d1"/><stop offset="0.5500" stop-color="#59bdd7"/><stop offset="0.5750" stop-color="#57b6de"/><stop offset="0.6000" stop-color="#55aee4"/><stop offset="0.6250" stop-color="#54a7ea"/><stop offset="0.6500" stop-color="#52a0f0"/><stop offset="0.6750" stop-color="#5397f3"/><stop offset="0.7000" stop-color="#538ff6"/><stop offset="0.7250" stop-color="#5486f9"/><stop offset="0.7500" stop-color="#547dfc"/><stop offset="0.7750" stop-color="#5575fe"/><stop offset="0.8000" stop-color="#546bff"/><stop offset="0.8250" stop-color="#5361ff"/><stop offset="0.8500" stop-color="#5257ff"/><stop offset="0.8750" stop-color="#504dff"/><stop offset="0.9000" stop-color="#4837f8"/><stop offset="0.9250" stop-color="#442ae3"/><stop offset="0.9500" stop-color="#4328cc"/><stop offset="0.9750" stop-color="#4227bc"/><stop offset="1.0000" stop-color="#4026ac"/></linearGradient></defs>
<rect x="664.8" y="377.9" width="8.2" height="169.9" fill="url(#g664)" stroke="#b0b0b0" stroke-width="0.5"/>
<line x1="671.8" y1="530.86" x2="673" y2="530.86" stroke="#444" stroke-width="0.5"/>
<text x="674.4" y="533.76" font-family="&quot;Liberation Sans&quot;, sans-serif" font-size="6.5" fill="#3a3a3a" stroke="#3a3a3a" stroke-width="0.15">80</text>
<line x1="671.8" y1="507.33" x2="673" y2="507.33" stroke="#444" stroke-width="0.5"/>
<text x="674.4" y="510.23" font-family="&quot;Liberation Sans&quot;, sans-serif" font-size="6.5" fill="#3a3a3a" stroke="#3a3a3a" stroke-width="0.15">85</text>
<line x1="671.8" y1="483.79" x2="673" y2="483.79" stroke="#444" stroke-width="0.5"/>
<text x="674.4" y="486.69" font-family="&quot;Liberation Sans&quot;, sans-serif" font-size="6.5" fill="#3a3a3a" stroke="#3a3a3a" stroke-width="0.15">90</text>
<line x1="671.8" y1="460.26" x2="673" y2="460.26" stroke="#444" stroke-width="0.5"/>
<text x="674.4" y="463.16" font-family="&quot;Liberation Sans&quot;, sans-serif" font-size="6.5" fill="#3a3a3a" stroke="#3a3a3a" stroke-width="0.15">95</text>
<line x1="671.8" y1="436.73" x2="673" y2="436.73" stroke="#444" stroke-width="0.5"/>
<text x="674.4" y="439.63" font-family="&quot;Liberation Sans&quot;, sans-serif" font-size="6.5" fill="#3a3a3a" stroke="#3a3a3a" stroke-width="0.15">100</text>
<line x1="671.8" y1="413.2" x2="673" y2="413.2" stroke="#444" stroke-width="0.5"/>
<text x="674.4" y="416.1" font-family="&quot;Liberation Sans&quot;, sans-serif" font-size="6.5" fill="#3a3a3a" stroke="#3a3a3a" stroke-width="0.15">105</text>
<line x1="671.8" y1="389.67" x2="673" y2="389.67" stroke="#444" stroke-width="0.5"/>
<text x="674.4" y="392.57" font-family="&quot;Liberation Sans&quot;, sans-serif" font-size="6.5" fill="#3a3a3a" stroke="#3a3a3a" stroke-width="0.15">110</text>
<text x="54.44" y="373.4" font-family="&quot;Liberation Sans&quot;, sans-serif" font-size="15.9" fill="#111" stroke="#111" stroke-width="0.38" textLength="100.16" lengthAdjust="spacingAndGlyphs">E.R @ 79 keV</text>
<text x="296.92" y="373.5" font-family="&quot;Liberation Sans&quot;, sans-serif" font-size="16.1" fill="#111" stroke="#111" stroke-width="0.38" textLength="110.7" lengthAdjust="spacingAndGlyphs">E.R @ 122 keV</text>
<text x="534.94" y="373.7" font-family="&quot;Liberation Sans&quot;, sans-serif" font-size="14.9" fill="#111" stroke="#111" stroke-width="0.38" textLength="104.97" lengthAdjust="spacingAndGlyphs">peak position</text>
<rect x="31.0" y="553.3" width="143.6" height="118" fill="#fff" stroke="#cfcfcf" stroke-width="0.8"/>
<line x1="35.18" y1="671.3" x2="35.18" y2="669.5" stroke="#999" stroke-width="0.5"/>
<line x1="35.18" y1="553.3" x2="35.18" y2="555.0999999999999" stroke="#999" stroke-width="0.5"/>
<text x="35.18" y="678.6999999999999" font-family="&quot;Liberation Sans&quot;, sans-serif" font-size="6.6" fill="#444" stroke="#444" stroke-width="0.18" text-anchor="middle">25</text>
<line x1="70.04" y1="671.3" x2="70.04" y2="669.5" stroke="#999" stroke-width="0.5"/>
<line x1="70.04" y1="553.3" x2="70.04" y2="555.0999999999999" stroke="#999" stroke-width="0.5"/>
<text x="70.04" y="678.6999999999999" font-family="&quot;Liberation Sans&quot;, sans-serif" font-size="6.6" fill="#444" stroke="#444" stroke-width="0.18" text-anchor="middle">30</text>
<line x1="104.89" y1="671.3" x2="104.89" y2="669.5" stroke="#999" stroke-width="0.5"/>
<line x1="104.89" y1="553.3" x2="104.89" y2="555.0999999999999" stroke="#999" stroke-width="0.5"/>
<text x="104.89" y="678.6999999999999" font-family="&quot;Liberation Sans&quot;, sans-serif" font-size="6.6" fill="#444" stroke="#444" stroke-width="0.18" text-anchor="middle">35</text>
<line x1="139.75" y1="671.3" x2="139.75" y2="669.5" stroke="#999" stroke-width="0.5"/>
<line x1="139.75" y1="553.3" x2="139.75" y2="555.0999999999999" stroke="#999" stroke-width="0.5"/>
<text x="139.75" y="678.6999999999999" font-family="&quot;Liberation Sans&quot;, sans-serif" font-size="6.6" fill="#444" stroke="#444" stroke-width="0.18" text-anchor="middle">40</text>
<line x1="174.6" y1="671.3" x2="174.6" y2="669.5" stroke="#999" stroke-width="0.5"/>
<line x1="174.6" y1="553.3" x2="174.6" y2="555.0999999999999" stroke="#999" stroke-width="0.5"/>
<text x="174.6" y="678.6999999999999" font-family="&quot;Liberation Sans&quot;, sans-serif" font-size="6.6" fill="#444" stroke="#444" stroke-width="0.18" text-anchor="middle">45</text>
<line x1="31.0" y1="671.3" x2="32.8" y2="671.3" stroke="#999" stroke-width="0.5"/>
<line x1="174.6" y1="671.3" x2="172.79999999999998" y2="671.3" stroke="#999" stroke-width="0.5"/>
<text x="28.8" y="673.7" font-family="&quot;Liberation Sans&quot;, sans-serif" font-size="6.6" fill="#444" stroke="#444" stroke-width="0.18" text-anchor="end">0</text>
<line x1="31.0" y1="654.44" x2="32.8" y2="654.44" stroke="#999" stroke-width="0.5"/>
<line x1="174.6" y1="654.44" x2="172.79999999999998" y2="654.44" stroke="#999" stroke-width="0.5"/>
<text x="28.8" y="656.84" font-family="&quot;Liberation Sans&quot;, sans-serif" font-size="6.6" fill="#444" stroke="#444" stroke-width="0.18" text-anchor="end">5</text>
<line x1="31.0" y1="637.59" x2="32.8" y2="637.59" stroke="#999" stroke-width="0.5"/>
<line x1="174.6" y1="637.59" x2="172.79999999999998" y2="637.59" stroke="#999" stroke-width="0.5"/>
<text x="28.8" y="639.99" font-family="&quot;Liberation Sans&quot;, sans-serif" font-size="6.6" fill="#444" stroke="#444" stroke-width="0.18" text-anchor="end">10</text>
<line x1="31.0" y1="620.73" x2="32.8" y2="620.73" stroke="#999" stroke-width="0.5"/>
<line x1="174.6" y1="620.73" x2="172.79999999999998" y2="620.73" stroke="#999" stroke-width="0.5"/>
<text x="28.8" y="623.13" font-family="&quot;Liberation Sans&quot;, sans-serif" font-size="6.6" fill="#444" stroke="#444" stroke-width="0.18" text-anchor="end">15</text>
<line x1="31.0" y1="603.87" x2="32.8" y2="603.87" stroke="#999" stroke-width="0.5"/>
<line x1="174.6" y1="603.87" x2="172.79999999999998" y2="603.87" stroke="#999" stroke-width="0.5"/>
<text x="28.8" y="606.27" font-family="&quot;Liberation Sans&quot;, sans-serif" font-size="6.6" fill="#444" stroke="#444" stroke-width="0.18" text-anchor="end">20</text>
<line x1="31.0" y1="587.01" x2="32.8" y2="587.01" stroke="#999" stroke-width="0.5"/>
<line x1="174.6" y1="587.01" x2="172.79999999999998" y2="587.01" stroke="#999" stroke-width="0.5"/>
<text x="28.8" y="589.41" font-family="&quot;Liberation Sans&quot;, sans-serif" font-size="6.6" fill="#444" stroke="#444" stroke-width="0.18" text-anchor="end">25</text>
<line x1="31.0" y1="570.16" x2="32.8" y2="570.16" stroke="#999" stroke-width="0.5"/>
<line x1="174.6" y1="570.16" x2="172.79999999999998" y2="570.16" stroke="#999" stroke-width="0.5"/>
<text x="28.8" y="572.56" font-family="&quot;Liberation Sans&quot;, sans-serif" font-size="6.6" fill="#444" stroke="#444" stroke-width="0.18" text-anchor="end">30</text>
<line x1="31.0" y1="553.3" x2="32.8" y2="553.3" stroke="#999" stroke-width="0.5"/>
<line x1="174.6" y1="553.3" x2="172.79999999999998" y2="553.3" stroke="#999" stroke-width="0.5"/>
<text x="28.8" y="555.7" font-family="&quot;Liberation Sans&quot;, sans-serif" font-size="6.6" fill="#444" stroke="#444" stroke-width="0.18" text-anchor="end">35</text>
<rect x="31" y="651.07" width="11.71" height="20.23" fill="#3e26a8" stroke="#2a1a80" stroke-width="0.4"/>
<rect x="42.71" y="630.84" width="11.71" height="40.46" fill="#3e26a8" stroke="#2a1a80" stroke-width="0.4"/>
<rect x="54.42" y="563.41" width="11.71" height="107.89" fill="#3e26a8" stroke="#2a1a80" stroke-width="0.4"/>
<rect x="66.13" y="576.9" width="11.71" height="94.4" fill="#3e26a8" stroke="#2a1a80" stroke-width="0.4"/>
<rect x="77.84" y="627.47" width="11.71" height="43.83" fill="#3e26a8" stroke="#2a1a80" stroke-width="0.4"/>
<rect x="89.56" y="654.44" width="11.71" height="16.86" fill="#3e26a8" stroke="#2a1a80" stroke-width="0.4"/>
<rect x="101.27" y="664.56" width="11.71" height="6.74" fill="#3e26a8" stroke="#2a1a80" stroke-width="0.4"/>
<rect x="136.4" y="664.56" width="11.71" height="6.74" fill="#3e26a8" stroke="#2a1a80" stroke-width="0.4"/>
<text x="24.14" y="691" font-family="&quot;Liberation Sans&quot;, sans-serif" font-size="14.3" fill="#111" stroke="#111" stroke-width="0.22" textLength="133.57" lengthAdjust="spacingAndGlyphs">energy resolution (%)</text>
<text transform="translate(16.1,652.03) rotate(-90)" x="0" y="0" font-family="&quot;Liberation Sans&quot;, sans-serif" font-size="14.3" fill="#111" stroke="#111" stroke-width="0.22" textLength="68.41" lengthAdjust="spacingAndGlyphs">pixel count</text>
<rect x="277.5" y="552.4" width="149.5" height="118.5" fill="#fff" stroke="#cfcfcf" stroke-width="0.8"/>
<line x1="277.5" y1="670.9" x2="277.5" y2="669.1" stroke="#999" stroke-width="0.5"/>
<line x1="277.5" y1="552.4" x2="277.5" y2="554.1999999999999" stroke="#999" stroke-width="0.5"/>
<text x="277.5" y="678.3" font-family="&quot;Liberation Sans&quot;, sans-serif" font-size="6.6" fill="#444" stroke="#444" stroke-width="0.18" text-anchor="middle">20</text>
<line x1="307.4" y1="670.9" x2="307.4" y2="669.1" stroke="#999" stroke-width="0.5"/>
<line x1="307.4" y1="552.4" x2="307.4" y2="554.1999999999999" stroke="#999" stroke-width="0.5"/>
<text x="307.4" y="678.3" font-family="&quot;Liberation Sans&quot;, sans-serif" font-size="6.6" fill="#444" stroke="#444" stroke-width="0.18" text-anchor="middle">25</text>
<line x1="337.3" y1="670.9" x2="337.3" y2="669.1" stroke="#999" stroke-width="0.5"/>
<line x1="337.3" y1="552.4" x2="337.3" y2="554.1999999999999" stroke="#999" stroke-width="0.5"/>
<text x="337.3" y="678.3" font-family="&quot;Liberation Sans&quot;, sans-serif" font-size="6.6" fill="#444" stroke="#444" stroke-width="0.18" text-anchor="middle">30</text>
<line x1="367.2" y1="670.9" x2="367.2" y2="669.1" stroke="#999" stroke-width="0.5"/>
<line x1="367.2" y1="552.4" x2="367.2" y2="554.1999999999999" stroke="#999" stroke-width="0.5"/>
<text x="367.2" y="678.3" font-family="&quot;Liberation Sans&quot;, sans-serif" font-size="6.6" fill="#444" stroke="#444" stroke-width="0.18" text-anchor="middle">35</text>
<line x1="397.1" y1="670.9" x2="397.1" y2="669.1" stroke="#999" stroke-width="0.5"/>
<line x1="397.1" y1="552.4" x2="397.1" y2="554.1999999999999" stroke="#999" stroke-width="0.5"/>
<text x="397.1" y="678.3" font-family="&quot;Liberation Sans&quot;, sans-serif" font-size="6.6" fill="#444" stroke="#444" stroke-width="0.18" text-anchor="middle">40</text>
<line x1="427" y1="670.9" x2="427" y2="669.1" stroke="#999" stroke-width="0.5"/>
<line x1="427" y1="552.4" x2="427" y2="554.1999999999999" stroke="#999" stroke-width="0.5"/>
<text x="427" y="678.3" font-family="&quot;Liberation Sans&quot;, sans-serif" font-size="6.6" fill="#444" stroke="#444" stroke-width="0.18" text-anchor="middle">45</text>
<line x1="277.5" y1="670.9" x2="279.3" y2="670.9" stroke="#999" stroke-width="0.5"/>
<line x1="427.0" y1="670.9" x2="425.2" y2="670.9" stroke="#999" stroke-width="0.5"/>
<text x="275.3" y="673.3" font-family="&quot;Liberation Sans&quot;, sans-serif" font-size="6.6" fill="#444" stroke="#444" stroke-width="0.18" text-anchor="end">0</text>
<line x1="277.5" y1="651.15" x2="279.3" y2="651.15" stroke="#999" stroke-width="0.5"/>
<line x1="427.0" y1="651.15" x2="425.2" y2="651.15" stroke="#999" stroke-width="0.5"/>
<text x="275.3" y="653.55" font-family="&quot;Liberation Sans&quot;, sans-serif" font-size="6.6" fill="#444" stroke="#444" stroke-width="0.18" text-anchor="end">5</text>
<line x1="277.5" y1="631.4" x2="279.3" y2="631.4" stroke="#999" stroke-width="0.5"/>
<line x1="427.0" y1="631.4" x2="425.2" y2="631.4" stroke="#999" stroke-width="0.5"/>
<text x="275.3" y="633.8" font-family="&quot;Liberation Sans&quot;, sans-serif" font-size="6.6" fill="#444" stroke="#444" stroke-width="0.18" text-anchor="end">10</text>
<line x1="277.5" y1="611.65" x2="279.3" y2="611.65" stroke="#999" stroke-width="0.5"/>
<line x1="427.0" y1="611.65" x2="425.2" y2="611.65" stroke="#999" stroke-width="0.5"/>
<text x="275.3" y="614.05" font-family="&quot;Liberation Sans&quot;, sans-serif" font-size="6.6" fill="#444" stroke="#444" stroke-width="0.18" text-anchor="end">15</text>
<line x1="277.5" y1="591.9" x2="279.3" y2="591.9" stroke="#999" stroke-width="0.5"/>
<line x1="427.0" y1="591.9" x2="425.2" y2="591.9" stroke="#999" stroke-width="0.5"/>
<text x="275.3" y="594.3" font-family="&quot;Liberation Sans&quot;, sans-serif" font-size="6.6" fill="#444" stroke="#444" stroke-width="0.18" text-anchor="end">20</text>
<line x1="277.5" y1="572.15" x2="279.3" y2="572.15" stroke="#999" stroke-width="0.5"/>
<line x1="427.0" y1="572.15" x2="425.2" y2="572.15" stroke="#999" stroke-width="0.5"/>
<text x="275.3" y="574.55" font-family="&quot;Liberation Sans&quot;, sans-serif" font-size="6.6" fill="#444" stroke="#444" stroke-width="0.18" text-anchor="end">25</text>
<line x1="277.5" y1="552.4" x2="279.3" y2="552.4" stroke="#999" stroke-width="0.5"/>
<line x1="427.0" y1="552.4" x2="425.2" y2="552.4" stroke="#999" stroke-width="0.5"/>
<text x="275.3" y="554.8" font-family="&quot;Liberation Sans&quot;, sans-serif" font-size="6.6" fill="#444" stroke="#444" stroke-width="0.18" text-anchor="end">30</text>
<rect x="299.63" y="587.95" width="11.54" height="82.95" fill="#3e26a8" stroke="#2a1a80" stroke-width="0.4"/>
<rect x="311.17" y="560.3" width="11.54" height="110.6" fill="#3e26a8" stroke="#2a1a80" stroke-width="0.4"/>
<rect x="322.71" y="587.95" width="11.54" height="82.95" fill="#3e26a8" stroke="#2a1a80" stroke-width="0.4"/>
<rect x="334.25" y="599.8" width="11.54" height="71.1" fill="#3e26a8" stroke="#2a1a80" stroke-width="0.4"/>
<rect x="345.79" y="651.15" width="11.54" height="19.75" fill="#3e26a8" stroke="#2a1a80" stroke-width="0.4"/>
<rect x="357.33" y="663" width="11.54" height="7.9" fill="#3e26a8" stroke="#2a1a80" stroke-width="0.4"/>
<rect x="368.87" y="663" width="11.54" height="7.9" fill="#3e26a8" stroke="#2a1a80" stroke-width="0.4"/>
<rect x="380.42" y="666.95" width="11.54" height="3.95" fill="#3e26a8" stroke="#2a1a80" stroke-width="0.4"/>
<rect x="403.5" y="663" width="11.54" height="7.9" fill="#3e26a8" stroke="#2a1a80" stroke-width="0.4"/>
<text x="285.03" y="691" font-family="&quot;Liberation Sans&quot;, sans-serif" font-size="14.3" fill="#111" stroke="#111" stroke-width="0.22" textLength="134.58" lengthAdjust="spacingAndGlyphs">energy resolution (%)</text>
<text transform="translate(262.6,651.02) rotate(-90)" x="0" y="0" font-family="&quot;Liberation Sans&quot;, sans-serif" font-size="14.3" fill="#111" stroke="#111" stroke-width="0.22" textLength="68.01" lengthAdjust="spacingAndGlyphs">pixel count</text>
<rect x="507.5" y="553.8" width="149.9" height="117.6" fill="#fff" stroke="#cfcfcf" stroke-width="0.8"/>
<line x1="507.5" y1="671.4" x2="507.5" y2="669.6" stroke="#999" stroke-width="0.5"/>
<line x1="507.5" y1="553.8" x2="507.5" y2="555.5999999999999" stroke="#999" stroke-width="0.5"/>
<text x="507.5" y="678.8" font-family="&quot;Liberation Sans&quot;, sans-serif" font-size="6.6" fill="#444" stroke="#444" stroke-width="0.18" text-anchor="middle">70</text>
<line x1="537.48" y1="671.4" x2="537.48" y2="669.6" stroke="#999" stroke-width="0.5"/>
<line x1="537.48" y1="553.8" x2="537.48" y2="555.5999999999999" stroke="#999" stroke-width="0.5"/>
<text x="537.48" y="678.8" font-family="&quot;Liberation Sans&quot;, sans-serif" font-size="6.6" fill="#444" stroke="#444" stroke-width="0.18" text-anchor="middle">80</text>
<line x1="567.46" y1="671.4" x2="567.46" y2="669.6" stroke="#999" stroke-width="0.5"/>
<line x1="567.46" y1="553.8" x2="567.46" y2="555.5999999999999" stroke="#999" stroke-width="0.5"/>
<text x="567.46" y="678.8" font-family="&quot;Liberation Sans&quot;, sans-serif" font-size="6.6" fill="#444" stroke="#444" stroke-width="0.18" text-anchor="middle">90</text>
<line x1="597.44" y1="671.4" x2="597.44" y2="669.6" stroke="#999" stroke-width="0.5"/>
<line x1="597.44" y1="553.8" x2="597.44" y2="555.5999999999999" stroke="#999" stroke-width="0.5"/>
<text x="597.44" y="678.8" font-family="&quot;Liberation Sans&quot;, sans-serif" font-size="6.6" fill="#444" stroke="#444" stroke-width="0.18" text-anchor="middle">100</text>
<line x1="627.42" y1="671.4" x2="627.42" y2="669.6" stroke="#999" stroke-width="0.5"/>
<line x1="627.42" y1="553.8" x2="627.42" y2="555.5999999999999" stroke="#999" stroke-width="0.5"/>
<text x="627.42" y="678.8" font-family="&quot;Liberation Sans&quot;, sans-serif" font-size="6.6" fill="#444" stroke="#444" stroke-width="0.18" text-anchor="middle">110</text>
<line x1="657.4" y1="671.4" x2="657.4" y2="669.6" stroke="#999" stroke-width="0.5"/>
<line x1="657.4" y1="553.8" x2="657.4" y2="555.5999999999999" stroke="#999" stroke-width="0.5"/>
<text x="657.4" y="678.8" font-family="&quot;Liberation Sans&quot;, sans-serif" font-size="6.6" fill="#444" stroke="#444" stroke-width="0.18" text-anchor="middle">120</text>
<line x1="507.5" y1="671.4" x2="509.3" y2="671.4" stroke="#999" stroke-width="0.5"/>
<line x1="657.4" y1="671.4" x2="655.6" y2="671.4" stroke="#999" stroke-width="0.5"/>
<text x="505.3" y="673.8" font-family="&quot;Liberation Sans&quot;, sans-serif" font-size="6.6" fill="#444" stroke="#444" stroke-width="0.18" text-anchor="end">0</text>
<line x1="507.5" y1="658.33" x2="509.3" y2="658.33" stroke="#999" stroke-width="0.5"/>
<line x1="657.4" y1="658.33" x2="655.6" y2="658.33" stroke="#999" stroke-width="0.5"/>
<text x="505.3" y="660.73" font-family="&quot;Liberation Sans&quot;, sans-serif" font-size="6.6" fill="#444" stroke="#444" stroke-width="0.18" text-anchor="end">2</text>
<line x1="507.5" y1="645.27" x2="509.3" y2="645.27" stroke="#999" stroke-width="0.5"/>
<line x1="657.4" y1="645.27" x2="655.6" y2="645.27" stroke="#999" stroke-width="0.5"/>
<text x="505.3" y="647.67" font-family="&quot;Liberation Sans&quot;, sans-serif" font-size="6.6" fill="#444" stroke="#444" stroke-width="0.18" text-anchor="end">4</text>
<line x1="507.5" y1="632.2" x2="509.3" y2="632.2" stroke="#999" stroke-width="0.5"/>
<line x1="657.4" y1="632.2" x2="655.6" y2="632.2" stroke="#999" stroke-width="0.5"/>
<text x="505.3" y="634.6" font-family="&quot;Liberation Sans&quot;, sans-serif" font-size="6.6" fill="#444" stroke="#444" stroke-width="0.18" text-anchor="end">6</text>
<line x1="507.5" y1="619.13" x2="509.3" y2="619.13" stroke="#999" stroke-width="0.5"/>
<line x1="657.4" y1="619.13" x2="655.6" y2="619.13" stroke="#999" stroke-width="0.5"/>
<text x="505.3" y="621.53" font-family="&quot;Liberation Sans&quot;, sans-serif" font-size="6.6" fill="#444" stroke="#444" stroke-width="0.18" text-anchor="end">8</text>
<line x1="507.5" y1="606.07" x2="509.3" y2="606.07" stroke="#999" stroke-width="0.5"/>
<line x1="657.4" y1="606.07" x2="655.6" y2="606.07" stroke="#999" stroke-width="0.5"/>
<text x="505.3" y="608.47" font-family="&quot;Liberation Sans&quot;, sans-serif" font-size="6.6" fill="#444" stroke="#444" stroke-width="0.18" text-anchor="end">10</text>
<line x1="507.5" y1="593" x2="509.3" y2="593" stroke="#999" stroke-width="0.5"/>
<line x1="657.4" y1="593" x2="655.6" y2="593" stroke="#999" stroke-width="0.5"/>
<text x="505.3" y="595.4" font-family="&quot;Liberation Sans&quot;, sans-serif" font-size="6.6" fill="#444" stroke="#444" stroke-width="0.18" text-anchor="end">12</text>
<line x1="507.5" y1="579.93" x2="509.3" y2="579.93" stroke="#999" stroke-width="0.5"/>
<line x1="657.4" y1="579.93" x2="655.6" y2="579.93" stroke="#999" stroke-width="0.5"/>
<text x="505.3" y="582.33" font-family="&quot;Liberation Sans&quot;, sans-serif" font-size="6.6" fill="#444" stroke="#444" stroke-width="0.18" text-anchor="end">14</text>
<line x1="507.5" y1="566.87" x2="509.3" y2="566.87" stroke="#999" stroke-width="0.5"/>
<line x1="657.4" y1="566.87" x2="655.6" y2="566.87" stroke="#999" stroke-width="0.5"/>
<text x="505.3" y="569.27" font-family="&quot;Liberation Sans&quot;, sans-serif" font-size="6.6" fill="#444" stroke="#444" stroke-width="0.18" text-anchor="end">16</text>
<line x1="507.5" y1="553.8" x2="509.3" y2="553.8" stroke="#999" stroke-width="0.5"/>
<line x1="657.4" y1="553.8" x2="655.6" y2="553.8" stroke="#999" stroke-width="0.5"/>
<text x="505.3" y="556.2" font-family="&quot;Liberation Sans&quot;, sans-serif" font-size="6.6" fill="#444" stroke="#444" stroke-width="0.18" text-anchor="end">18</text>
<rect x="526.09" y="638.73" width="10.88" height="32.67" fill="#3e26a8" stroke="#2a1a80" stroke-width="0.4"/>
<rect x="536.97" y="645.27" width="10.88" height="26.13" fill="#3e26a8" stroke="#2a1a80" stroke-width="0.4"/>
<rect x="547.85" y="599.53" width="10.88" height="71.87" fill="#3e26a8" stroke="#2a1a80" stroke-width="0.4"/>
<rect x="558.74" y="553.8" width="10.88" height="117.6" fill="#3e26a8" stroke="#2a1a80" stroke-width="0.4"/>
<rect x="569.62" y="593" width="10.88" height="78.4" fill="#3e26a8" stroke="#2a1a80" stroke-width="0.4"/>
<rect x="580.5" y="560.33" width="10.88" height="111.07" fill="#3e26a8" stroke="#2a1a80" stroke-width="0.4"/>
<rect x="591.38" y="579.93" width="10.88" height="91.47" fill="#3e26a8" stroke="#2a1a80" stroke-width="0.4"/>
<rect x="602.27" y="586.47" width="10.88" height="84.93" fill="#3e26a8" stroke="#2a1a80" stroke-width="0.4"/>
<rect x="613.15" y="645.27" width="10.88" height="26.13" fill="#3e26a8" stroke="#2a1a80" stroke-width="0.4"/>
<rect x="624.03" y="658.33" width="10.88" height="13.07" fill="#3e26a8" stroke="#2a1a80" stroke-width="0.4"/>
<text x="534.75" y="691.6" font-family="&quot;Liberation Sans&quot;, sans-serif" font-size="14.3" fill="#111" stroke="#111" stroke-width="0.22" textLength="86.35" lengthAdjust="spacingAndGlyphs">peak position</text>
<text transform="translate(493.3,652.62) rotate(-90)" x="0" y="0" font-family="&quot;Liberation Sans&quot;, sans-serif" font-size="14.3" fill="#111" stroke="#111" stroke-width="0.22" textLength="68.01" lengthAdjust="spacingAndGlyphs">pixel count</text>
</svg>
</body></html>
